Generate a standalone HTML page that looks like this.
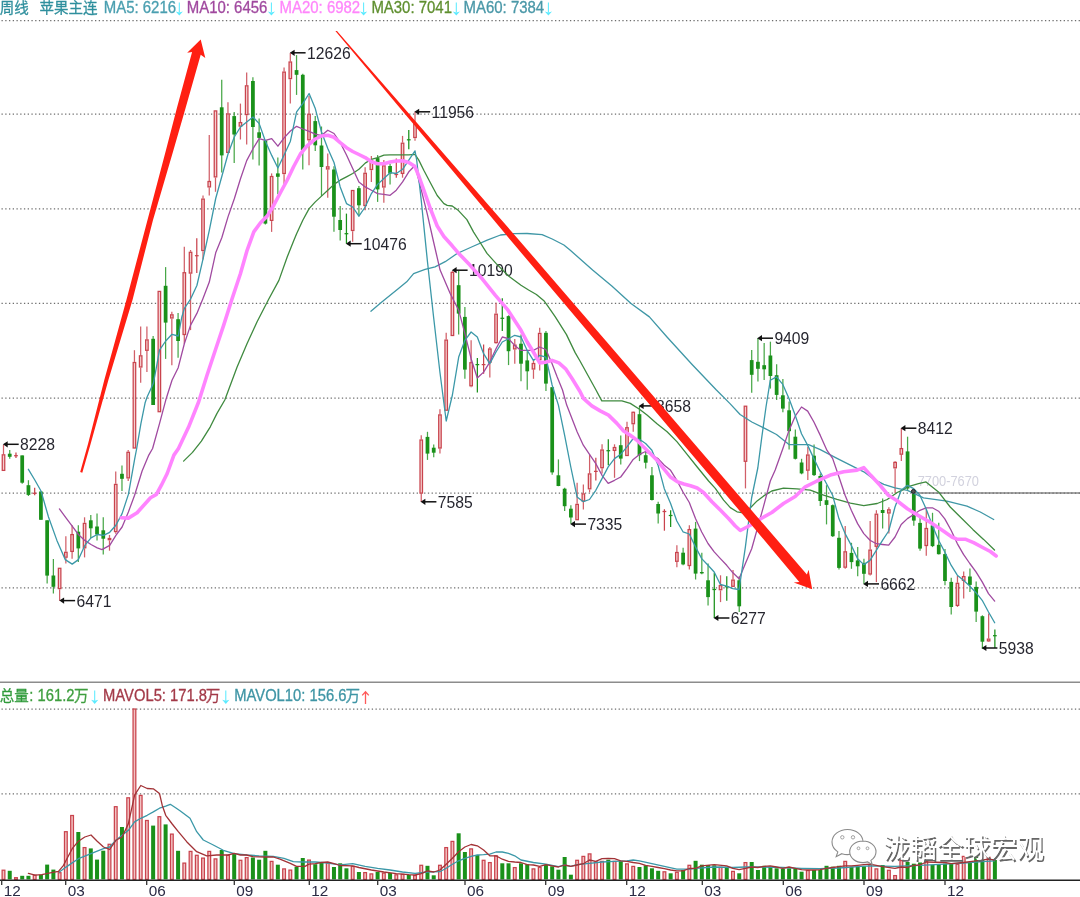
<!DOCTYPE html>
<html><head><meta charset="utf-8"><title>chart</title>
<style>
html,body{margin:0;padding:0;background:#fff;}
body{width:1080px;height:897px;overflow:hidden;position:relative;font-family:"Liberation Sans","Noto Sans CJK SC",sans-serif;}
svg{position:absolute;left:0;top:0;display:block;filter:blur(0.45px);}
text{font-family:"Liberation Sans","Noto Sans CJK SC",sans-serif;}
.lb{font-size:15.7px;fill:#26262f;}
.ax{font-size:15.3px;fill:#2a2a44;}
.hd{font-size:15.9px;}
.cj{font-size:15.2px;}
</style></head><body>
<svg width="1080" height="897" viewBox="0 0 1080 897">
<rect x="0" y="0" width="1080" height="897" fill="#fff"/>

<line x1="915" y1="493" x2="1080" y2="493" stroke="#a6a6a6" stroke-width="2.2"/>
<g stroke="#6e6e6e" stroke-width="1.25" stroke-dasharray="1.3 2.44" fill="none">
<line x1="1.5" y1="20.6" x2="1080" y2="20.6"/>
<line x1="1.5" y1="114.0" x2="1080" y2="114.0"/>
<line x1="1.5" y1="208.8" x2="1080" y2="208.8"/>
<line x1="1.5" y1="303.4" x2="1080" y2="303.4"/>
<line x1="1.5" y1="398.2" x2="1080" y2="398.2"/>
<line x1="1.5" y1="493.1" x2="1080" y2="493.1"/>
<line x1="1.5" y1="587.9" x2="1080" y2="587.9"/>
<line x1="1.5" y1="709.1" x2="1080" y2="709.1"/>
<line x1="1.5" y1="793.8" x2="1080" y2="793.8"/>
</g>
<line x1="0" y1="682.3" x2="1080" y2="682.3" stroke="#8c8c8c" stroke-width="1.6"/>
<g id="candles">
<line x1="3.50" y1="444.7" x2="3.50" y2="454.2" stroke="#c9434d" stroke-width="1.25" stroke-opacity="0.85"/>
<rect x="2.25" y="454.8" width="2.5" height="15.6" fill="#f5d0d0" stroke="#c9434d" stroke-width="1.25"/>
<line x1="9.73" y1="450.1" x2="9.73" y2="458.8" stroke="#1a911a" stroke-width="1.25" stroke-opacity="0.8"/>
<rect x="7.86" y="453.7" width="3.75" height="3.1" fill="#1a911a"/>
<line x1="15.97" y1="452.6" x2="15.97" y2="458.1" stroke="#c9434d" stroke-width="1.25"/>
<line x1="14.10" y1="455.7" x2="17.84" y2="455.7" stroke="#c9434d" stroke-width="1.25"/>
<line x1="22.21" y1="455.4" x2="22.21" y2="483.8" stroke="#1a911a" stroke-width="1.25" stroke-opacity="0.8"/>
<rect x="20.33" y="455.4" width="3.75" height="27.3" fill="#1a911a"/>
<line x1="28.44" y1="480.2" x2="28.44" y2="496" stroke="#1a911a" stroke-width="1.25" stroke-opacity="0.8"/>
<rect x="26.57" y="485.2" width="3.75" height="9.7" fill="#1a911a"/>
<line x1="34.67" y1="487.7" x2="34.67" y2="495.2" stroke="#c9434d" stroke-width="1.25"/>
<line x1="32.80" y1="493.3" x2="36.55" y2="493.3" stroke="#c9434d" stroke-width="1.25"/>
<line x1="40.91" y1="491.5" x2="40.91" y2="519.8" stroke="#1a911a" stroke-width="1.25" stroke-opacity="0.8"/>
<rect x="39.04" y="491.5" width="3.75" height="28.3" fill="#1a911a"/>
<line x1="47.15" y1="520.3" x2="47.15" y2="583.5" stroke="#1a911a" stroke-width="1.25" stroke-opacity="0.8"/>
<rect x="45.27" y="520.3" width="3.75" height="55.3" fill="#1a911a"/>
<line x1="53.38" y1="559" x2="53.38" y2="593.5" stroke="#1a911a" stroke-width="1.25" stroke-opacity="0.8"/>
<rect x="51.51" y="575.5" width="3.75" height="11.3" fill="#1a911a"/>
<line x1="59.62" y1="589.3" x2="59.62" y2="600.8" stroke="#c9434d" stroke-width="1.25" stroke-opacity="0.85"/>
<rect x="58.37" y="568.3" width="2.5" height="20.3" fill="#f5d0d0" stroke="#c9434d" stroke-width="1.25"/>
<line x1="65.85" y1="536.2" x2="65.85" y2="551.7" stroke="#c9434d" stroke-width="1.25" stroke-opacity="0.85"/>
<line x1="65.85" y1="557.9" x2="65.85" y2="563.4" stroke="#c9434d" stroke-width="1.25" stroke-opacity="0.85"/>
<rect x="64.60" y="552.3" width="2.5" height="4.9" fill="#f5d0d0" stroke="#c9434d" stroke-width="1.25"/>
<line x1="72.09" y1="525.3" x2="72.09" y2="534" stroke="#c9434d" stroke-width="1.25" stroke-opacity="0.85"/>
<line x1="72.09" y1="552" x2="72.09" y2="558.8" stroke="#c9434d" stroke-width="1.25" stroke-opacity="0.85"/>
<rect x="70.84" y="534.6" width="2.5" height="16.8" fill="#f5d0d0" stroke="#c9434d" stroke-width="1.25"/>
<line x1="78.32" y1="525.3" x2="78.32" y2="562.1" stroke="#1a911a" stroke-width="1.25" stroke-opacity="0.8"/>
<rect x="76.45" y="531.7" width="3.75" height="16.7" fill="#1a911a"/>
<line x1="84.56" y1="517.3" x2="84.56" y2="522.8" stroke="#c9434d" stroke-width="1.25" stroke-opacity="0.85"/>
<line x1="84.56" y1="548.4" x2="84.56" y2="557.4" stroke="#c9434d" stroke-width="1.25" stroke-opacity="0.85"/>
<rect x="83.31" y="523.4" width="2.5" height="24.4" fill="#f5d0d0" stroke="#c9434d" stroke-width="1.25"/>
<line x1="90.79" y1="514.9" x2="90.79" y2="537.9" stroke="#1a911a" stroke-width="1.25" stroke-opacity="0.8"/>
<rect x="88.92" y="520.3" width="3.75" height="8.0" fill="#1a911a"/>
<line x1="97.03" y1="513.6" x2="97.03" y2="540.4" stroke="#1a911a" stroke-width="1.25" stroke-opacity="0.8"/>
<rect x="95.15" y="526.5" width="3.75" height="8.0" fill="#1a911a"/>
<line x1="103.26" y1="517.3" x2="103.26" y2="554.6" stroke="#1a911a" stroke-width="1.25" stroke-opacity="0.8"/>
<rect x="101.39" y="530.3" width="3.75" height="8.4" fill="#1a911a"/>
<line x1="109.50" y1="535" x2="109.50" y2="537.9" stroke="#c9434d" stroke-width="1.25" stroke-opacity="0.85"/>
<line x1="109.50" y1="540.4" x2="109.50" y2="550.7" stroke="#c9434d" stroke-width="1.25" stroke-opacity="0.85"/>
<rect x="108.25" y="538.5" width="2.5" height="1.2" fill="#f5d0d0" stroke="#c9434d" stroke-width="1.25"/>
<line x1="115.73" y1="471.5" x2="115.73" y2="483.8" stroke="#c9434d" stroke-width="1.25" stroke-opacity="0.85"/>
<line x1="115.73" y1="532.3" x2="115.73" y2="533.7" stroke="#c9434d" stroke-width="1.25" stroke-opacity="0.85"/>
<rect x="114.48" y="484.4" width="2.5" height="47.2" fill="#f5d0d0" stroke="#c9434d" stroke-width="1.25"/>
<line x1="121.97" y1="465.5" x2="121.97" y2="491" stroke="#1a911a" stroke-width="1.25" stroke-opacity="0.8"/>
<rect x="120.09" y="473.8" width="3.75" height="5.0" fill="#1a911a"/>
<line x1="128.20" y1="450.1" x2="128.20" y2="451.7" stroke="#c9434d" stroke-width="1.25" stroke-opacity="0.85"/>
<line x1="128.20" y1="478.5" x2="128.20" y2="481" stroke="#c9434d" stroke-width="1.25" stroke-opacity="0.85"/>
<rect x="126.95" y="452.3" width="2.5" height="25.6" fill="#f5d0d0" stroke="#c9434d" stroke-width="1.25"/>
<line x1="134.44" y1="350.2" x2="134.44" y2="361.9" stroke="#c9434d" stroke-width="1.25" stroke-opacity="0.85"/>
<rect x="133.19" y="362.5" width="2.5" height="85.5" fill="#f5d0d0" stroke="#c9434d" stroke-width="1.25"/>
<line x1="140.67" y1="326.4" x2="140.67" y2="355.2" stroke="#c9434d" stroke-width="1.25" stroke-opacity="0.85"/>
<line x1="140.67" y1="367.7" x2="140.67" y2="382.8" stroke="#c9434d" stroke-width="1.25" stroke-opacity="0.85"/>
<rect x="139.42" y="355.8" width="2.5" height="11.2" fill="#f5d0d0" stroke="#c9434d" stroke-width="1.25"/>
<line x1="146.91" y1="326.4" x2="146.91" y2="339.3" stroke="#c9434d" stroke-width="1.25" stroke-opacity="0.85"/>
<line x1="146.91" y1="351" x2="146.91" y2="371.9" stroke="#c9434d" stroke-width="1.25" stroke-opacity="0.85"/>
<rect x="145.66" y="339.9" width="2.5" height="10.4" fill="#f5d0d0" stroke="#c9434d" stroke-width="1.25"/>
<line x1="153.14" y1="336" x2="153.14" y2="405" stroke="#1a911a" stroke-width="1.25" stroke-opacity="0.8"/>
<rect x="151.27" y="338.8" width="3.75" height="66.2" fill="#1a911a"/>
<rect x="158.12" y="291.4" width="2.5" height="120.3" fill="#f5d0d0" stroke="#c9434d" stroke-width="1.25"/>
<line x1="165.61" y1="267.1" x2="165.61" y2="358.9" stroke="#1a911a" stroke-width="1.25" stroke-opacity="0.8"/>
<rect x="163.74" y="285.8" width="3.75" height="36.8" fill="#1a911a"/>
<line x1="171.84" y1="311.7" x2="171.84" y2="314.2" stroke="#c9434d" stroke-width="1.25" stroke-opacity="0.85"/>
<line x1="171.84" y1="318.7" x2="171.84" y2="365.2" stroke="#c9434d" stroke-width="1.25" stroke-opacity="0.85"/>
<rect x="170.59" y="314.8" width="2.5" height="3.2" fill="#f5d0d0" stroke="#c9434d" stroke-width="1.25"/>
<line x1="178.08" y1="313" x2="178.08" y2="357.7" stroke="#1a911a" stroke-width="1.25" stroke-opacity="0.8"/>
<rect x="176.21" y="319.2" width="3.75" height="21.8" fill="#1a911a"/>
<line x1="184.31" y1="246.7" x2="184.31" y2="272.1" stroke="#c9434d" stroke-width="1.25" stroke-opacity="0.85"/>
<line x1="184.31" y1="335.1" x2="184.31" y2="343.8" stroke="#c9434d" stroke-width="1.25" stroke-opacity="0.85"/>
<rect x="183.06" y="272.7" width="2.5" height="61.8" fill="#f5d0d0" stroke="#c9434d" stroke-width="1.25"/>
<line x1="190.55" y1="250" x2="190.55" y2="251.7" stroke="#c9434d" stroke-width="1.25" stroke-opacity="0.85"/>
<line x1="190.55" y1="273.7" x2="190.55" y2="330.1" stroke="#c9434d" stroke-width="1.25" stroke-opacity="0.85"/>
<rect x="189.30" y="252.3" width="2.5" height="20.8" fill="#f5d0d0" stroke="#c9434d" stroke-width="1.25"/>
<line x1="196.78" y1="238.3" x2="196.78" y2="272.9" stroke="#c9434d" stroke-width="1.25"/>
<line x1="194.91" y1="255.7" x2="198.66" y2="255.7" stroke="#c9434d" stroke-width="1.25"/>
<line x1="203.02" y1="195.5" x2="203.02" y2="198.5" stroke="#c9434d" stroke-width="1.25" stroke-opacity="0.85"/>
<line x1="203.02" y1="251.2" x2="203.02" y2="259.5" stroke="#c9434d" stroke-width="1.25" stroke-opacity="0.85"/>
<rect x="201.77" y="199.1" width="2.5" height="51.4" fill="#f5d0d0" stroke="#c9434d" stroke-width="1.25"/>
<line x1="209.26" y1="135" x2="209.26" y2="180.9" stroke="#c9434d" stroke-width="1.25" stroke-opacity="0.85"/>
<line x1="209.26" y1="187.6" x2="209.26" y2="195.5" stroke="#c9434d" stroke-width="1.25" stroke-opacity="0.85"/>
<rect x="208.01" y="181.5" width="2.5" height="5.4" fill="#f5d0d0" stroke="#c9434d" stroke-width="1.25"/>
<line x1="215.49" y1="177.6" x2="215.49" y2="191.8" stroke="#c9434d" stroke-width="1.25" stroke-opacity="0.85"/>
<rect x="214.24" y="110.9" width="2.5" height="66.0" fill="#f5d0d0" stroke="#c9434d" stroke-width="1.25"/>
<line x1="221.73" y1="79.8" x2="221.73" y2="172.6" stroke="#1a911a" stroke-width="1.25" stroke-opacity="0.8"/>
<rect x="219.85" y="107.3" width="3.75" height="48.1" fill="#1a911a"/>
<line x1="227.96" y1="102.2" x2="227.96" y2="113.3" stroke="#c9434d" stroke-width="1.25" stroke-opacity="0.85"/>
<rect x="226.71" y="113.9" width="2.5" height="38.5" fill="#f5d0d0" stroke="#c9434d" stroke-width="1.25"/>
<line x1="234.20" y1="111.9" x2="234.20" y2="162.9" stroke="#1a911a" stroke-width="1.25" stroke-opacity="0.8"/>
<rect x="232.32" y="116.1" width="3.75" height="18.4" fill="#1a911a"/>
<line x1="240.43" y1="103.6" x2="240.43" y2="122" stroke="#c9434d" stroke-width="1.25" stroke-opacity="0.85"/>
<line x1="240.43" y1="126.7" x2="240.43" y2="139.5" stroke="#c9434d" stroke-width="1.25" stroke-opacity="0.85"/>
<rect x="239.18" y="122.6" width="2.5" height="3.5" fill="#f5d0d0" stroke="#c9434d" stroke-width="1.25"/>
<line x1="246.67" y1="72.6" x2="246.67" y2="85.2" stroke="#c9434d" stroke-width="1.25" stroke-opacity="0.85"/>
<line x1="246.67" y1="115.3" x2="246.67" y2="144.5" stroke="#c9434d" stroke-width="1.25" stroke-opacity="0.85"/>
<rect x="245.42" y="85.8" width="2.5" height="28.8" fill="#f5d0d0" stroke="#c9434d" stroke-width="1.25"/>
<line x1="252.90" y1="77.3" x2="252.90" y2="159.6" stroke="#1a911a" stroke-width="1.25" stroke-opacity="0.8"/>
<rect x="251.03" y="81" width="3.75" height="46.0" fill="#1a911a"/>
<line x1="259.13" y1="118.6" x2="259.13" y2="165.5" stroke="#1a911a" stroke-width="1.25" stroke-opacity="0.8"/>
<rect x="257.26" y="132.3" width="3.75" height="5.6" fill="#1a911a"/>
<line x1="265.37" y1="140.4" x2="265.37" y2="224.5" stroke="#1a911a" stroke-width="1.25" stroke-opacity="0.8"/>
<rect x="263.50" y="140.4" width="3.75" height="83.2" fill="#1a911a"/>
<line x1="271.61" y1="173.4" x2="271.61" y2="175.9" stroke="#c9434d" stroke-width="1.25" stroke-opacity="0.85"/>
<line x1="271.61" y1="221.1" x2="271.61" y2="231.9" stroke="#c9434d" stroke-width="1.25" stroke-opacity="0.85"/>
<rect x="270.36" y="176.5" width="2.5" height="43.9" fill="#f5d0d0" stroke="#c9434d" stroke-width="1.25"/>
<line x1="277.84" y1="157.5" x2="277.84" y2="194.3" stroke="#1a911a" stroke-width="1.25" stroke-opacity="0.8"/>
<rect x="275.97" y="173.4" width="3.75" height="3.4" fill="#1a911a"/>
<line x1="284.07" y1="67.6" x2="284.07" y2="71.5" stroke="#c9434d" stroke-width="1.25" stroke-opacity="0.85"/>
<line x1="284.07" y1="174.2" x2="284.07" y2="184.2" stroke="#c9434d" stroke-width="1.25" stroke-opacity="0.85"/>
<rect x="282.82" y="72.1" width="2.5" height="101.4" fill="#f5d0d0" stroke="#c9434d" stroke-width="1.25"/>
<line x1="290.31" y1="53.1" x2="290.31" y2="61.4" stroke="#c9434d" stroke-width="1.25" stroke-opacity="0.85"/>
<line x1="290.31" y1="79.3" x2="290.31" y2="103.6" stroke="#c9434d" stroke-width="1.25" stroke-opacity="0.85"/>
<rect x="289.06" y="62.0" width="2.5" height="16.6" fill="#f5d0d0" stroke="#c9434d" stroke-width="1.25"/>
<line x1="296.55" y1="55.1" x2="296.55" y2="94.9" stroke="#1a911a" stroke-width="1.25" stroke-opacity="0.8"/>
<rect x="294.67" y="70.1" width="3.75" height="4.7" fill="#1a911a"/>
<line x1="302.78" y1="73.8" x2="302.78" y2="169.5" stroke="#1a911a" stroke-width="1.25" stroke-opacity="0.8"/>
<rect x="300.91" y="74.8" width="3.75" height="75.3" fill="#1a911a"/>
<line x1="309.02" y1="96.1" x2="309.02" y2="113.6" stroke="#c9434d" stroke-width="1.25" stroke-opacity="0.85"/>
<line x1="309.02" y1="140.4" x2="309.02" y2="165.3" stroke="#c9434d" stroke-width="1.25" stroke-opacity="0.85"/>
<rect x="307.77" y="114.2" width="2.5" height="25.6" fill="#f5d0d0" stroke="#c9434d" stroke-width="1.25"/>
<line x1="315.25" y1="116.1" x2="315.25" y2="151" stroke="#1a911a" stroke-width="1.25" stroke-opacity="0.8"/>
<rect x="313.38" y="121.1" width="3.75" height="24.2" fill="#1a911a"/>
<line x1="321.49" y1="126.5" x2="321.49" y2="196.1" stroke="#1a911a" stroke-width="1.25" stroke-opacity="0.8"/>
<rect x="319.61" y="145.5" width="3.75" height="21.5" fill="#1a911a"/>
<line x1="327.72" y1="153.5" x2="327.72" y2="166.2" stroke="#c9434d" stroke-width="1.25" stroke-opacity="0.85"/>
<line x1="327.72" y1="169.7" x2="327.72" y2="197.8" stroke="#c9434d" stroke-width="1.25" stroke-opacity="0.85"/>
<rect x="326.47" y="166.8" width="2.5" height="2.2" fill="#f5d0d0" stroke="#c9434d" stroke-width="1.25"/>
<line x1="333.96" y1="166.3" x2="333.96" y2="231.7" stroke="#1a911a" stroke-width="1.25" stroke-opacity="0.8"/>
<rect x="332.08" y="169.5" width="3.75" height="47.2" fill="#1a911a"/>
<line x1="340.19" y1="206.1" x2="340.19" y2="240.4" stroke="#1a911a" stroke-width="1.25" stroke-opacity="0.8"/>
<rect x="338.31" y="220" width="3.75" height="10.0" fill="#1a911a"/>
<line x1="346.43" y1="213.6" x2="346.43" y2="243.7" stroke="#1a911a" stroke-width="1.25"/>
<line x1="344.55" y1="233.7" x2="348.30" y2="233.7" stroke="#1a911a" stroke-width="1.25"/>
<line x1="352.66" y1="231.2" x2="352.66" y2="241.7" stroke="#c9434d" stroke-width="1.25" stroke-opacity="0.85"/>
<rect x="351.41" y="190.5" width="2.5" height="40.0" fill="#f5d0d0" stroke="#c9434d" stroke-width="1.25"/>
<line x1="358.90" y1="186.1" x2="358.90" y2="216.2" stroke="#1a911a" stroke-width="1.25" stroke-opacity="0.8"/>
<rect x="357.02" y="188.2" width="3.75" height="17.1" fill="#1a911a"/>
<line x1="365.13" y1="167.3" x2="365.13" y2="172.7" stroke="#c9434d" stroke-width="1.25" stroke-opacity="0.85"/>
<line x1="365.13" y1="206.1" x2="365.13" y2="210.3" stroke="#c9434d" stroke-width="1.25" stroke-opacity="0.85"/>
<rect x="363.88" y="173.3" width="2.5" height="32.2" fill="#f5d0d0" stroke="#c9434d" stroke-width="1.25"/>
<line x1="371.37" y1="156" x2="371.37" y2="160.1" stroke="#c9434d" stroke-width="1.25" stroke-opacity="0.85"/>
<line x1="371.37" y1="170.2" x2="371.37" y2="181.9" stroke="#c9434d" stroke-width="1.25" stroke-opacity="0.85"/>
<rect x="370.12" y="160.7" width="2.5" height="8.8" fill="#f5d0d0" stroke="#c9434d" stroke-width="1.25"/>
<line x1="377.60" y1="155.1" x2="377.60" y2="201.9" stroke="#1a911a" stroke-width="1.25" stroke-opacity="0.8"/>
<rect x="375.73" y="158.1" width="3.75" height="31.3" fill="#1a911a"/>
<line x1="383.84" y1="160.1" x2="383.84" y2="165.2" stroke="#c9434d" stroke-width="1.25" stroke-opacity="0.85"/>
<line x1="383.84" y1="187.7" x2="383.84" y2="202.8" stroke="#c9434d" stroke-width="1.25" stroke-opacity="0.85"/>
<rect x="382.59" y="165.8" width="2.5" height="21.2" fill="#f5d0d0" stroke="#c9434d" stroke-width="1.25"/>
<line x1="390.07" y1="163.8" x2="390.07" y2="184.4" stroke="#1a911a" stroke-width="1.25" stroke-opacity="0.8"/>
<rect x="388.19" y="166" width="3.75" height="7.5" fill="#1a911a"/>
<line x1="396.31" y1="158.5" x2="396.31" y2="177.7" stroke="#c9434d" stroke-width="1.25"/>
<line x1="394.43" y1="174.5" x2="398.18" y2="174.5" stroke="#c9434d" stroke-width="1.25"/>
<line x1="402.54" y1="135.9" x2="402.54" y2="142.6" stroke="#c9434d" stroke-width="1.25" stroke-opacity="0.85"/>
<line x1="402.54" y1="174" x2="402.54" y2="177.7" stroke="#c9434d" stroke-width="1.25" stroke-opacity="0.85"/>
<rect x="401.29" y="143.2" width="2.5" height="30.2" fill="#f5d0d0" stroke="#c9434d" stroke-width="1.25"/>
<line x1="408.78" y1="129.9" x2="408.78" y2="149.3" stroke="#1a911a" stroke-width="1.25"/>
<line x1="406.90" y1="139.8" x2="410.65" y2="139.8" stroke="#1a911a" stroke-width="1.25"/>
<line x1="415.01" y1="111.7" x2="415.01" y2="123.4" stroke="#c9434d" stroke-width="1.25" stroke-opacity="0.85"/>
<line x1="415.01" y1="138.2" x2="415.01" y2="140.7" stroke="#c9434d" stroke-width="1.25" stroke-opacity="0.85"/>
<rect x="413.76" y="124.0" width="2.5" height="13.5" fill="#f5d0d0" stroke="#c9434d" stroke-width="1.25"/>
<line x1="421.25" y1="435.2" x2="421.25" y2="439.4" stroke="#c9434d" stroke-width="1.25" stroke-opacity="0.85"/>
<line x1="421.25" y1="493.7" x2="421.25" y2="502.1" stroke="#c9434d" stroke-width="1.25" stroke-opacity="0.85"/>
<rect x="420.00" y="440.0" width="2.5" height="53.1" fill="#f5d0d0" stroke="#c9434d" stroke-width="1.25"/>
<line x1="427.48" y1="431.8" x2="427.48" y2="459.9" stroke="#1a911a" stroke-width="1.25" stroke-opacity="0.8"/>
<rect x="425.61" y="436.9" width="3.75" height="16.7" fill="#1a911a"/>
<line x1="433.72" y1="444.4" x2="433.72" y2="457.3" stroke="#1a911a" stroke-width="1.25" stroke-opacity="0.8"/>
<rect x="431.84" y="447.7" width="3.75" height="5.0" fill="#1a911a"/>
<line x1="439.95" y1="409.3" x2="439.95" y2="414.3" stroke="#c9434d" stroke-width="1.25" stroke-opacity="0.85"/>
<line x1="439.95" y1="448.6" x2="439.95" y2="453.6" stroke="#c9434d" stroke-width="1.25" stroke-opacity="0.85"/>
<rect x="438.70" y="414.9" width="2.5" height="33.1" fill="#f5d0d0" stroke="#c9434d" stroke-width="1.25"/>
<line x1="446.19" y1="332.8" x2="446.19" y2="339.5" stroke="#c9434d" stroke-width="1.25" stroke-opacity="0.85"/>
<rect x="444.94" y="340.1" width="2.5" height="70.1" fill="#f5d0d0" stroke="#c9434d" stroke-width="1.25"/>
<line x1="452.42" y1="270.9" x2="452.42" y2="271.8" stroke="#c9434d" stroke-width="1.25" stroke-opacity="0.85"/>
<rect x="451.17" y="272.4" width="2.5" height="63.1" fill="#f5d0d0" stroke="#c9434d" stroke-width="1.25"/>
<line x1="458.66" y1="270.9" x2="458.66" y2="334.5" stroke="#1a911a" stroke-width="1.25" stroke-opacity="0.8"/>
<rect x="456.78" y="285.2" width="3.75" height="28.4" fill="#1a911a"/>
<line x1="464.89" y1="306.9" x2="464.89" y2="378.8" stroke="#1a911a" stroke-width="1.25" stroke-opacity="0.8"/>
<rect x="463.02" y="316.9" width="3.75" height="52.7" fill="#1a911a"/>
<line x1="471.12" y1="340.3" x2="471.12" y2="362.1" stroke="#c9434d" stroke-width="1.25" stroke-opacity="0.85"/>
<line x1="471.12" y1="386.5" x2="471.12" y2="387.2" stroke="#c9434d" stroke-width="1.25" stroke-opacity="0.85"/>
<rect x="469.88" y="362.7" width="2.5" height="23.1" fill="#f5d0d0" stroke="#c9434d" stroke-width="1.25"/>
<line x1="477.36" y1="357.9" x2="477.36" y2="392.5" stroke="#1a911a" stroke-width="1.25"/>
<line x1="475.49" y1="364.6" x2="479.24" y2="364.6" stroke="#1a911a" stroke-width="1.25"/>
<line x1="483.60" y1="344.5" x2="483.60" y2="373.8" stroke="#c9434d" stroke-width="1.25"/>
<line x1="481.72" y1="364.6" x2="485.47" y2="364.6" stroke="#c9434d" stroke-width="1.25"/>
<line x1="489.83" y1="347" x2="489.83" y2="348.4" stroke="#c9434d" stroke-width="1.25" stroke-opacity="0.85"/>
<line x1="489.83" y1="362.9" x2="489.83" y2="377.5" stroke="#c9434d" stroke-width="1.25" stroke-opacity="0.85"/>
<rect x="488.58" y="349.0" width="2.5" height="13.2" fill="#f5d0d0" stroke="#c9434d" stroke-width="1.25"/>
<line x1="496.06" y1="302.7" x2="496.06" y2="313.6" stroke="#c9434d" stroke-width="1.25" stroke-opacity="0.85"/>
<line x1="496.06" y1="343.3" x2="496.06" y2="343.7" stroke="#c9434d" stroke-width="1.25" stroke-opacity="0.85"/>
<rect x="494.81" y="314.2" width="2.5" height="28.4" fill="#f5d0d0" stroke="#c9434d" stroke-width="1.25"/>
<line x1="502.30" y1="298.2" x2="502.30" y2="331.1" stroke="#1a911a" stroke-width="1.25"/>
<line x1="500.43" y1="318.3" x2="504.18" y2="318.3" stroke="#1a911a" stroke-width="1.25"/>
<line x1="508.54" y1="315.3" x2="508.54" y2="365.1" stroke="#1a911a" stroke-width="1.25" stroke-opacity="0.8"/>
<rect x="506.66" y="316.1" width="3.75" height="35.1" fill="#1a911a"/>
<line x1="514.77" y1="339" x2="514.77" y2="344.5" stroke="#c9434d" stroke-width="1.25" stroke-opacity="0.85"/>
<line x1="514.77" y1="349.5" x2="514.77" y2="363.7" stroke="#c9434d" stroke-width="1.25" stroke-opacity="0.85"/>
<rect x="513.52" y="345.1" width="2.5" height="3.8" fill="#f5d0d0" stroke="#c9434d" stroke-width="1.25"/>
<line x1="521.00" y1="334.5" x2="521.00" y2="381.3" stroke="#1a911a" stroke-width="1.25" stroke-opacity="0.8"/>
<rect x="519.13" y="343.7" width="3.75" height="20.0" fill="#1a911a"/>
<line x1="527.24" y1="351.2" x2="527.24" y2="389.7" stroke="#1a911a" stroke-width="1.25" stroke-opacity="0.8"/>
<rect x="525.37" y="360.4" width="3.75" height="10.9" fill="#1a911a"/>
<line x1="533.48" y1="359.6" x2="533.48" y2="362.9" stroke="#c9434d" stroke-width="1.25" stroke-opacity="0.85"/>
<line x1="533.48" y1="369.6" x2="533.48" y2="378.8" stroke="#c9434d" stroke-width="1.25" stroke-opacity="0.85"/>
<rect x="532.23" y="363.5" width="2.5" height="5.5" fill="#f5d0d0" stroke="#c9434d" stroke-width="1.25"/>
<line x1="539.71" y1="327.8" x2="539.71" y2="332.8" stroke="#c9434d" stroke-width="1.25" stroke-opacity="0.85"/>
<line x1="539.71" y1="360.4" x2="539.71" y2="370.4" stroke="#c9434d" stroke-width="1.25" stroke-opacity="0.85"/>
<rect x="538.46" y="333.4" width="2.5" height="26.3" fill="#f5d0d0" stroke="#c9434d" stroke-width="1.25"/>
<line x1="545.95" y1="331.1" x2="545.95" y2="390.9" stroke="#1a911a" stroke-width="1.25" stroke-opacity="0.8"/>
<rect x="544.07" y="332.8" width="3.75" height="50.8" fill="#1a911a"/>
<line x1="552.18" y1="387.2" x2="552.18" y2="474.7" stroke="#1a911a" stroke-width="1.25" stroke-opacity="0.8"/>
<rect x="550.31" y="387.2" width="3.75" height="85.2" fill="#1a911a"/>
<line x1="558.42" y1="459.4" x2="558.42" y2="486.2" stroke="#1a911a" stroke-width="1.25" stroke-opacity="0.8"/>
<rect x="556.54" y="475.3" width="3.75" height="10.7" fill="#1a911a"/>
<line x1="564.65" y1="487.7" x2="564.65" y2="511" stroke="#1a911a" stroke-width="1.25" stroke-opacity="0.8"/>
<rect x="562.77" y="488.7" width="3.75" height="17.5" fill="#1a911a"/>
<line x1="570.88" y1="505.2" x2="570.88" y2="523.8" stroke="#1a911a" stroke-width="1.25" stroke-opacity="0.8"/>
<rect x="569.01" y="508.7" width="3.75" height="8.8" fill="#1a911a"/>
<line x1="577.12" y1="482.8" x2="577.12" y2="503.8" stroke="#c9434d" stroke-width="1.25" stroke-opacity="0.85"/>
<rect x="575.87" y="504.4" width="2.5" height="15.3" fill="#f5d0d0" stroke="#c9434d" stroke-width="1.25"/>
<line x1="583.36" y1="484.5" x2="583.36" y2="493.3" stroke="#c9434d" stroke-width="1.25" stroke-opacity="0.85"/>
<line x1="583.36" y1="501.7" x2="583.36" y2="509.6" stroke="#c9434d" stroke-width="1.25" stroke-opacity="0.85"/>
<rect x="582.11" y="493.9" width="2.5" height="7.1" fill="#f5d0d0" stroke="#c9434d" stroke-width="1.25"/>
<line x1="589.59" y1="454.4" x2="589.59" y2="473.3" stroke="#c9434d" stroke-width="1.25" stroke-opacity="0.85"/>
<line x1="589.59" y1="489.5" x2="589.59" y2="492.3" stroke="#c9434d" stroke-width="1.25" stroke-opacity="0.85"/>
<rect x="588.34" y="473.9" width="2.5" height="14.9" fill="#f5d0d0" stroke="#c9434d" stroke-width="1.25"/>
<line x1="595.83" y1="457.7" x2="595.83" y2="480.6" stroke="#c9434d" stroke-width="1.25"/>
<line x1="593.95" y1="471.4" x2="597.70" y2="471.4" stroke="#c9434d" stroke-width="1.25"/>
<line x1="602.06" y1="444.3" x2="602.06" y2="449.4" stroke="#c9434d" stroke-width="1.25" stroke-opacity="0.85"/>
<line x1="602.06" y1="468.3" x2="602.06" y2="473.6" stroke="#c9434d" stroke-width="1.25" stroke-opacity="0.85"/>
<rect x="600.81" y="450.0" width="2.5" height="17.7" fill="#f5d0d0" stroke="#c9434d" stroke-width="1.25"/>
<line x1="608.30" y1="439.3" x2="608.30" y2="465.3" stroke="#1a911a" stroke-width="1.25"/>
<line x1="606.42" y1="450.7" x2="610.17" y2="450.7" stroke="#1a911a" stroke-width="1.25"/>
<line x1="614.53" y1="444.3" x2="614.53" y2="446.9" stroke="#c9434d" stroke-width="1.25" stroke-opacity="0.85"/>
<line x1="614.53" y1="451" x2="614.53" y2="477.8" stroke="#c9434d" stroke-width="1.25" stroke-opacity="0.85"/>
<rect x="613.28" y="447.5" width="2.5" height="2.9" fill="#f5d0d0" stroke="#c9434d" stroke-width="1.25"/>
<line x1="620.76" y1="435.5" x2="620.76" y2="464.4" stroke="#1a911a" stroke-width="1.25" stroke-opacity="0.8"/>
<rect x="618.89" y="445.2" width="3.75" height="13.4" fill="#1a911a"/>
<line x1="627.00" y1="421.8" x2="627.00" y2="427.1" stroke="#c9434d" stroke-width="1.25" stroke-opacity="0.85"/>
<rect x="625.75" y="427.7" width="2.5" height="27.8" fill="#f5d0d0" stroke="#c9434d" stroke-width="1.25"/>
<line x1="633.24" y1="411.4" x2="633.24" y2="411.7" stroke="#c9434d" stroke-width="1.25" stroke-opacity="0.85"/>
<line x1="633.24" y1="424.3" x2="633.24" y2="431.8" stroke="#c9434d" stroke-width="1.25" stroke-opacity="0.85"/>
<rect x="631.99" y="412.3" width="2.5" height="11.4" fill="#f5d0d0" stroke="#c9434d" stroke-width="1.25"/>
<line x1="639.47" y1="405.9" x2="639.47" y2="461.1" stroke="#1a911a" stroke-width="1.25" stroke-opacity="0.8"/>
<rect x="637.60" y="414.2" width="3.75" height="41.0" fill="#1a911a"/>
<line x1="645.71" y1="451" x2="645.71" y2="468.6" stroke="#1a911a" stroke-width="1.25" stroke-opacity="0.8"/>
<rect x="643.83" y="455.2" width="3.75" height="7.5" fill="#1a911a"/>
<line x1="651.94" y1="466.9" x2="651.94" y2="500.4" stroke="#1a911a" stroke-width="1.25" stroke-opacity="0.8"/>
<rect x="650.07" y="475.3" width="3.75" height="24.7" fill="#1a911a"/>
<line x1="658.18" y1="501.7" x2="658.18" y2="523.6" stroke="#1a911a" stroke-width="1.25" stroke-opacity="0.8"/>
<rect x="656.30" y="504" width="3.75" height="9.5" fill="#1a911a"/>
<line x1="664.41" y1="509.2" x2="664.41" y2="530.7" stroke="#c9434d" stroke-width="1.25"/>
<line x1="662.54" y1="511.5" x2="666.29" y2="511.5" stroke="#c9434d" stroke-width="1.25"/>
<line x1="670.64" y1="510.2" x2="670.64" y2="527" stroke="#1a911a" stroke-width="1.25"/>
<line x1="668.77" y1="515.5" x2="672.52" y2="515.5" stroke="#1a911a" stroke-width="1.25"/>
<line x1="676.88" y1="545.2" x2="676.88" y2="551.9" stroke="#c9434d" stroke-width="1.25" stroke-opacity="0.85"/>
<line x1="676.88" y1="561.9" x2="676.88" y2="567.3" stroke="#c9434d" stroke-width="1.25" stroke-opacity="0.85"/>
<rect x="675.63" y="552.5" width="2.5" height="8.8" fill="#f5d0d0" stroke="#c9434d" stroke-width="1.25"/>
<line x1="683.12" y1="547.7" x2="683.12" y2="565.3" stroke="#1a911a" stroke-width="1.25" stroke-opacity="0.8"/>
<rect x="681.24" y="552.7" width="3.75" height="11.7" fill="#1a911a"/>
<line x1="689.35" y1="525.2" x2="689.35" y2="529" stroke="#c9434d" stroke-width="1.25" stroke-opacity="0.85"/>
<line x1="689.35" y1="566.1" x2="689.35" y2="569.5" stroke="#c9434d" stroke-width="1.25" stroke-opacity="0.85"/>
<rect x="688.10" y="529.6" width="2.5" height="35.9" fill="#f5d0d0" stroke="#c9434d" stroke-width="1.25"/>
<line x1="695.59" y1="521.9" x2="695.59" y2="579.5" stroke="#1a911a" stroke-width="1.25" stroke-opacity="0.8"/>
<rect x="693.71" y="528.6" width="3.75" height="45.0" fill="#1a911a"/>
<line x1="701.82" y1="552.7" x2="701.82" y2="574.2" stroke="#1a911a" stroke-width="1.25" stroke-opacity="0.8"/>
<rect x="699.95" y="572" width="3.75" height="1.4" fill="#1a911a"/>
<line x1="708.06" y1="563.6" x2="708.06" y2="605.4" stroke="#1a911a" stroke-width="1.25" stroke-opacity="0.8"/>
<rect x="706.18" y="580.3" width="3.75" height="16.8" fill="#1a911a"/>
<line x1="714.29" y1="572.8" x2="714.29" y2="618" stroke="#1a911a" stroke-width="1.25"/>
<line x1="712.42" y1="589.5" x2="716.17" y2="589.5" stroke="#1a911a" stroke-width="1.25"/>
<line x1="720.53" y1="575.3" x2="720.53" y2="585" stroke="#c9434d" stroke-width="1.25" stroke-opacity="0.85"/>
<line x1="720.53" y1="590.4" x2="720.53" y2="602.1" stroke="#c9434d" stroke-width="1.25" stroke-opacity="0.85"/>
<rect x="719.28" y="585.6" width="2.5" height="4.1" fill="#f5d0d0" stroke="#c9434d" stroke-width="1.25"/>
<line x1="726.76" y1="576.2" x2="726.76" y2="600.7" stroke="#1a911a" stroke-width="1.25"/>
<line x1="724.88" y1="586.7" x2="728.63" y2="586.7" stroke="#1a911a" stroke-width="1.25"/>
<line x1="733.00" y1="570" x2="733.00" y2="579.5" stroke="#c9434d" stroke-width="1.25" stroke-opacity="0.85"/>
<rect x="731.75" y="580.1" width="2.5" height="6.2" fill="#f5d0d0" stroke="#c9434d" stroke-width="1.25"/>
<line x1="739.23" y1="576.2" x2="739.23" y2="612.1" stroke="#1a911a" stroke-width="1.25" stroke-opacity="0.8"/>
<rect x="737.36" y="580.3" width="3.75" height="26.0" fill="#1a911a"/>
<line x1="745.47" y1="462" x2="745.47" y2="488.4" stroke="#c9434d" stroke-width="1.25" stroke-opacity="0.85"/>
<rect x="744.22" y="406.2" width="2.5" height="55.1" fill="#f5d0d0" stroke="#c9434d" stroke-width="1.25"/>
<line x1="751.70" y1="350.1" x2="751.70" y2="392.7" stroke="#1a911a" stroke-width="1.25" stroke-opacity="0.8"/>
<rect x="749.83" y="360.1" width="3.75" height="14.7" fill="#1a911a"/>
<line x1="757.94" y1="338.1" x2="757.94" y2="381.5" stroke="#1a911a" stroke-width="1.25" stroke-opacity="0.8"/>
<rect x="756.06" y="361.8" width="3.75" height="7.0" fill="#1a911a"/>
<line x1="764.17" y1="343.1" x2="764.17" y2="379.9" stroke="#1a911a" stroke-width="1.25" stroke-opacity="0.8"/>
<rect x="762.30" y="365.2" width="3.75" height="4.1" fill="#1a911a"/>
<line x1="770.41" y1="341.7" x2="770.41" y2="388.6" stroke="#1a911a" stroke-width="1.25" stroke-opacity="0.8"/>
<rect x="768.53" y="355.5" width="3.75" height="20.5" fill="#1a911a"/>
<line x1="776.64" y1="364.3" x2="776.64" y2="399.9" stroke="#1a911a" stroke-width="1.25" stroke-opacity="0.8"/>
<rect x="774.76" y="375.2" width="3.75" height="19.7" fill="#1a911a"/>
<line x1="782.88" y1="378.9" x2="782.88" y2="412.3" stroke="#1a911a" stroke-width="1.25" stroke-opacity="0.8"/>
<rect x="781.00" y="395.3" width="3.75" height="13.3" fill="#1a911a"/>
<line x1="789.11" y1="401.6" x2="789.11" y2="449.4" stroke="#1a911a" stroke-width="1.25" stroke-opacity="0.8"/>
<rect x="787.24" y="410.3" width="3.75" height="20.9" fill="#1a911a"/>
<line x1="795.35" y1="429.5" x2="795.35" y2="459.6" stroke="#1a911a" stroke-width="1.25" stroke-opacity="0.8"/>
<rect x="793.47" y="436.7" width="3.75" height="22.1" fill="#1a911a"/>
<line x1="801.58" y1="458.8" x2="801.58" y2="474.3" stroke="#1a911a" stroke-width="1.25" stroke-opacity="0.8"/>
<rect x="799.71" y="462.5" width="3.75" height="10.9" fill="#1a911a"/>
<line x1="807.82" y1="446.9" x2="807.82" y2="454.4" stroke="#c9434d" stroke-width="1.25" stroke-opacity="0.85"/>
<line x1="807.82" y1="470.9" x2="807.82" y2="480.1" stroke="#c9434d" stroke-width="1.25" stroke-opacity="0.85"/>
<rect x="806.57" y="455.0" width="2.5" height="15.2" fill="#f5d0d0" stroke="#c9434d" stroke-width="1.25"/>
<line x1="814.05" y1="444.6" x2="814.05" y2="476" stroke="#1a911a" stroke-width="1.25" stroke-opacity="0.8"/>
<rect x="812.18" y="455.7" width="3.75" height="19.4" fill="#1a911a"/>
<line x1="820.29" y1="473.4" x2="820.29" y2="506.1" stroke="#1a911a" stroke-width="1.25" stroke-opacity="0.8"/>
<rect x="818.41" y="476" width="3.75" height="25.0" fill="#1a911a"/>
<line x1="826.52" y1="485.2" x2="826.52" y2="524.4" stroke="#1a911a" stroke-width="1.25" stroke-opacity="0.8"/>
<rect x="824.65" y="500.2" width="3.75" height="4.7" fill="#1a911a"/>
<line x1="832.75" y1="504.4" x2="832.75" y2="537" stroke="#1a911a" stroke-width="1.25" stroke-opacity="0.8"/>
<rect x="830.88" y="505.2" width="3.75" height="31.0" fill="#1a911a"/>
<line x1="838.99" y1="531.1" x2="838.99" y2="569.6" stroke="#1a911a" stroke-width="1.25" stroke-opacity="0.8"/>
<rect x="837.12" y="537.8" width="3.75" height="30.1" fill="#1a911a"/>
<line x1="845.23" y1="526.1" x2="845.23" y2="551.2" stroke="#c9434d" stroke-width="1.25" stroke-opacity="0.85"/>
<line x1="845.23" y1="567.9" x2="845.23" y2="568.8" stroke="#c9434d" stroke-width="1.25" stroke-opacity="0.85"/>
<rect x="843.98" y="551.8" width="2.5" height="15.4" fill="#f5d0d0" stroke="#c9434d" stroke-width="1.25"/>
<line x1="851.46" y1="542.8" x2="851.46" y2="568.8" stroke="#1a911a" stroke-width="1.25" stroke-opacity="0.8"/>
<rect x="849.59" y="552.9" width="3.75" height="9.2" fill="#1a911a"/>
<line x1="857.70" y1="547" x2="857.70" y2="576.3" stroke="#1a911a" stroke-width="1.25" stroke-opacity="0.8"/>
<rect x="855.82" y="560.4" width="3.75" height="5.9" fill="#1a911a"/>
<line x1="863.93" y1="558.7" x2="863.93" y2="583.8" stroke="#1a911a" stroke-width="1.25" stroke-opacity="0.8"/>
<rect x="862.06" y="562.9" width="3.75" height="10.9" fill="#1a911a"/>
<line x1="870.17" y1="521.1" x2="870.17" y2="549.5" stroke="#c9434d" stroke-width="1.25" stroke-opacity="0.85"/>
<line x1="870.17" y1="574.6" x2="870.17" y2="575.5" stroke="#c9434d" stroke-width="1.25" stroke-opacity="0.85"/>
<rect x="868.92" y="550.1" width="2.5" height="23.9" fill="#f5d0d0" stroke="#c9434d" stroke-width="1.25"/>
<line x1="876.40" y1="510.2" x2="876.40" y2="513.6" stroke="#c9434d" stroke-width="1.25" stroke-opacity="0.85"/>
<line x1="876.40" y1="547" x2="876.40" y2="582.1" stroke="#c9434d" stroke-width="1.25" stroke-opacity="0.85"/>
<rect x="875.15" y="514.2" width="2.5" height="32.1" fill="#f5d0d0" stroke="#c9434d" stroke-width="1.25"/>
<line x1="882.63" y1="498.5" x2="882.63" y2="528.6" stroke="#1a911a" stroke-width="1.25" stroke-opacity="0.8"/>
<rect x="880.76" y="510" width="3.75" height="3.0" fill="#1a911a"/>
<line x1="888.87" y1="507.3" x2="888.87" y2="509.2" stroke="#c9434d" stroke-width="1.25" stroke-opacity="0.85"/>
<line x1="888.87" y1="513.6" x2="888.87" y2="533.6" stroke="#c9434d" stroke-width="1.25" stroke-opacity="0.85"/>
<rect x="887.62" y="509.8" width="2.5" height="3.2" fill="#f5d0d0" stroke="#c9434d" stroke-width="1.25"/>
<line x1="895.11" y1="461" x2="895.11" y2="461.8" stroke="#c9434d" stroke-width="1.25" stroke-opacity="0.85"/>
<line x1="895.11" y1="468.5" x2="895.11" y2="493" stroke="#c9434d" stroke-width="1.25" stroke-opacity="0.85"/>
<rect x="893.86" y="462.4" width="2.5" height="5.4" fill="#f5d0d0" stroke="#c9434d" stroke-width="1.25"/>
<line x1="901.34" y1="428.5" x2="901.34" y2="448" stroke="#c9434d" stroke-width="1.25" stroke-opacity="0.85"/>
<line x1="901.34" y1="454.8" x2="901.34" y2="461" stroke="#c9434d" stroke-width="1.25" stroke-opacity="0.85"/>
<rect x="900.09" y="448.6" width="2.5" height="5.6" fill="#f5d0d0" stroke="#c9434d" stroke-width="1.25"/>
<line x1="907.58" y1="436.7" x2="907.58" y2="490.2" stroke="#1a911a" stroke-width="1.25" stroke-opacity="0.8"/>
<rect x="905.70" y="451.4" width="3.75" height="37.1" fill="#1a911a"/>
<line x1="913.81" y1="489.5" x2="913.81" y2="525.7" stroke="#1a911a" stroke-width="1.25" stroke-opacity="0.8"/>
<rect x="911.94" y="493.7" width="3.75" height="26.9" fill="#1a911a"/>
<line x1="920.05" y1="517" x2="920.05" y2="550.7" stroke="#1a911a" stroke-width="1.25" stroke-opacity="0.8"/>
<rect x="918.17" y="522.9" width="3.75" height="25.7" fill="#1a911a"/>
<line x1="926.28" y1="508.7" x2="926.28" y2="527.9" stroke="#c9434d" stroke-width="1.25" stroke-opacity="0.85"/>
<line x1="926.28" y1="546.1" x2="926.28" y2="555.8" stroke="#c9434d" stroke-width="1.25" stroke-opacity="0.85"/>
<rect x="925.03" y="528.5" width="2.5" height="17.0" fill="#f5d0d0" stroke="#c9434d" stroke-width="1.25"/>
<line x1="932.52" y1="512.8" x2="932.52" y2="547.1" stroke="#1a911a" stroke-width="1.25" stroke-opacity="0.8"/>
<rect x="930.64" y="525.4" width="3.75" height="20.7" fill="#1a911a"/>
<line x1="938.75" y1="522.7" x2="938.75" y2="554.6" stroke="#1a911a" stroke-width="1.25" stroke-opacity="0.8"/>
<rect x="936.88" y="544.8" width="3.75" height="9.4" fill="#1a911a"/>
<line x1="944.99" y1="549" x2="944.99" y2="585.2" stroke="#1a911a" stroke-width="1.25" stroke-opacity="0.8"/>
<rect x="943.11" y="554.1" width="3.75" height="26.9" fill="#1a911a"/>
<line x1="951.22" y1="577.7" x2="951.22" y2="614.5" stroke="#1a911a" stroke-width="1.25" stroke-opacity="0.8"/>
<rect x="949.35" y="581.9" width="3.75" height="25.1" fill="#1a911a"/>
<line x1="957.46" y1="576" x2="957.46" y2="582.7" stroke="#c9434d" stroke-width="1.25" stroke-opacity="0.85"/>
<line x1="957.46" y1="606.1" x2="957.46" y2="607" stroke="#c9434d" stroke-width="1.25" stroke-opacity="0.85"/>
<rect x="956.21" y="583.3" width="2.5" height="22.1" fill="#f5d0d0" stroke="#c9434d" stroke-width="1.25"/>
<line x1="963.69" y1="571.5" x2="963.69" y2="576" stroke="#c9434d" stroke-width="1.25" stroke-opacity="0.85"/>
<line x1="963.69" y1="581" x2="963.69" y2="598.6" stroke="#c9434d" stroke-width="1.25" stroke-opacity="0.85"/>
<rect x="962.44" y="576.6" width="2.5" height="3.8" fill="#f5d0d0" stroke="#c9434d" stroke-width="1.25"/>
<line x1="969.93" y1="568.5" x2="969.93" y2="591.9" stroke="#1a911a" stroke-width="1.25" stroke-opacity="0.8"/>
<rect x="968.05" y="576.5" width="3.75" height="8.4" fill="#1a911a"/>
<line x1="976.16" y1="581.5" x2="976.16" y2="622" stroke="#1a911a" stroke-width="1.25" stroke-opacity="0.8"/>
<rect x="974.29" y="586.9" width="3.75" height="24.7" fill="#1a911a"/>
<line x1="982.40" y1="615.3" x2="982.40" y2="648.8" stroke="#1a911a" stroke-width="1.25" stroke-opacity="0.8"/>
<rect x="980.52" y="616.2" width="3.75" height="25.5" fill="#1a911a"/>
<line x1="988.63" y1="613.6" x2="988.63" y2="638.5" stroke="#c9434d" stroke-width="1.25" stroke-opacity="0.85"/>
<line x1="988.63" y1="641.5" x2="988.63" y2="642.1" stroke="#c9434d" stroke-width="1.25" stroke-opacity="0.85"/>
<rect x="987.38" y="639.1" width="2.5" height="1.8" fill="#f5d0d0" stroke="#c9434d" stroke-width="1.25"/>
<line x1="994.87" y1="629.5" x2="994.87" y2="647.9" stroke="#1a911a" stroke-width="1.25"/>
<line x1="992.99" y1="635.7" x2="996.74" y2="635.7" stroke="#1a911a" stroke-width="1.25"/>
</g>
<g id="labels">
<path d="M2.9 444.3 l4.8 -3.1 v6.2 z" fill="#111"/>
<line x1="5.9" y1="444.3" x2="18.7" y2="444.3" stroke="#111" stroke-width="1.5"/>
<text x="20.1" y="450.4" class="lb">8228</text>
<path d="M59.3 600.6 l4.8 -3.1 v6.2 z" fill="#111"/>
<line x1="62.3" y1="600.6" x2="75.1" y2="600.6" stroke="#111" stroke-width="1.5"/>
<text x="76.5" y="606.7" class="lb">6471</text>
<path d="M289.8 52.8 l4.8 -3.1 v6.2 z" fill="#111"/>
<line x1="292.8" y1="52.8" x2="305.6" y2="52.8" stroke="#111" stroke-width="1.5"/>
<text x="307.0" y="58.9" class="lb">12626</text>
<path d="M345.9 243.7 l4.8 -3.1 v6.2 z" fill="#111"/>
<line x1="348.9" y1="243.7" x2="361.7" y2="243.7" stroke="#111" stroke-width="1.5"/>
<text x="363.1" y="249.8" class="lb">10476</text>
<path d="M414.4 111.8 l4.8 -3.1 v6.2 z" fill="#111"/>
<line x1="417.4" y1="111.8" x2="430.2" y2="111.8" stroke="#111" stroke-width="1.5"/>
<text x="431.6" y="117.9" class="lb">11956</text>
<path d="M451.8 270.2 l4.8 -3.1 v6.2 z" fill="#111"/>
<line x1="454.8" y1="270.2" x2="467.6" y2="270.2" stroke="#111" stroke-width="1.5"/>
<text x="469.0" y="276.3" class="lb">10190</text>
<path d="M420.6 501.8 l4.8 -3.1 v6.2 z" fill="#111"/>
<line x1="423.6" y1="501.8" x2="436.4" y2="501.8" stroke="#111" stroke-width="1.5"/>
<text x="437.8" y="507.9" class="lb">7585</text>
<path d="M570.2 524.1 l4.8 -3.1 v6.2 z" fill="#111"/>
<line x1="573.2" y1="524.1" x2="586.0" y2="524.1" stroke="#111" stroke-width="1.5"/>
<text x="587.4" y="530.2" class="lb">7335</text>
<path d="M638.8 405.9 l4.8 -3.1 v6.2 z" fill="#111"/>
<line x1="641.8" y1="405.9" x2="654.6" y2="405.9" stroke="#111" stroke-width="1.5"/>
<text x="656.0" y="412.0" class="lb">8658</text>
<path d="M713.6 618.0 l4.8 -3.1 v6.2 z" fill="#111"/>
<line x1="716.6" y1="618.0" x2="729.4" y2="618.0" stroke="#111" stroke-width="1.5"/>
<text x="730.8" y="624.1" class="lb">6277</text>
<path d="M757.2 338.2 l4.8 -3.1 v6.2 z" fill="#111"/>
<line x1="760.2" y1="338.2" x2="773.0" y2="338.2" stroke="#111" stroke-width="1.5"/>
<text x="774.4" y="344.3" class="lb">9409</text>
<path d="M900.6 428.2 l4.8 -3.1 v6.2 z" fill="#111"/>
<line x1="903.6" y1="428.2" x2="916.4" y2="428.2" stroke="#111" stroke-width="1.5"/>
<text x="917.8" y="434.3" class="lb">8412</text>
<path d="M863.2 583.9 l4.8 -3.1 v6.2 z" fill="#111"/>
<line x1="866.2" y1="583.9" x2="879.0" y2="583.9" stroke="#111" stroke-width="1.5"/>
<text x="880.4" y="590.0" class="lb">6662</text>
<path d="M981.6 648.0 l4.8 -3.1 v6.2 z" fill="#111"/>
<line x1="984.6" y1="648.0" x2="997.4" y2="648.0" stroke="#111" stroke-width="1.5"/>
<text x="998.8" y="654.1" class="lb">5938</text>
<text x="917.7" y="485.9" textLength="61.3" lengthAdjust="spacingAndGlyphs" style="font-size:15.2px;fill:#d2d2de">7700-7670</text>
</g>
<polyline points="370.9,311.2 381.8,302.0 398.5,288.6 406.7,281.8 413.6,273.6 425.1,269.3 435.1,266.8 445.2,261.7 457.1,253.5 473.8,246.0 487.2,240.1 500.5,235.0 513.9,233.7 527.1,233.5 542.1,234.6 552.2,239.0 563.9,245.0 570.0,250.0 592.6,270.1 611.8,286.0 631.0,303.5 649.4,316.9 667.0,337.0 692.1,364.5 716.4,390.0 730.0,403.6 740.1,414.5 751.8,422.0 765.2,428.7 776.5,434.5 789.0,444.6 808.6,444.6 820.3,449.6 837.0,458.4 850.4,465.1 863.8,471.8 873.8,479.3 883.8,484.3 895.0,487.8 907.4,490.3 923.5,497.8 946.9,501.1 967.0,506.2 980.3,512.0 993.7,519.5" fill="none" stroke="#3f97a6" stroke-width="1.3" stroke-linejoin="round" stroke-linecap="round" />
<polyline points="183.6,461.1 192.5,452.4 201.4,441.2 210.3,426.8 217.0,413.4 224.8,400.0 237.1,366.9 247.1,343.5 257.1,321.7 268.8,299.0 278.9,280.4 287.2,257.0 293.9,240.3 296.6,233.7 302.8,220.3 309.1,208.6 315.3,201.9 321.5,196.1 327.8,190.2 334.0,184.4 340.2,180.2 346.5,176.9 352.7,173.5 358.9,169.3 365.2,163.1 371.4,159.3 377.6,157.6 383.9,155.1 390.1,154.8 396.3,154.8 402.6,154.8 408.8,154.8 415.0,154.3 418.8,160.1 423.8,170.2 430.5,183.0 437.2,195.5 443.9,203.6 447.2,205.3 452.2,206.0 458.5,210.6 466.9,219.6 473.6,232.1 478.6,240.0 487.0,253.4 496.0,263.4 508.5,276.0 521.0,285.2 528.6,290.0 536.4,294.5 544.2,301.1 547.5,305.6 555.3,316.8 566.5,334.6 575.0,352.4 580.0,361.0 596.0,390.0 601.8,400.9 621.9,400.9 630.3,403.4 639.5,409.2 647.0,415.1 657.0,423.8 667.1,431.8 677.1,441.9 687.1,454.3 697.2,467.0 708.6,481.0 715.3,488.4 723.6,500.1 730.3,507.6 737.0,511.8 742.0,512.6 750.4,507.8 757.1,500.9 763.7,495.9 771.8,491.0 783.5,488.2 796.9,488.8 810.3,490.2 823.6,495.2 837.0,499.4 850.4,503.2 863.8,505.6 877.2,503.5 887.2,499.5 897.2,492.5 903.9,489.3 907.4,486.9 918.5,483.6 926.0,481.9 938.5,491.9 950.2,507.0 960.3,517.0 972.8,529.4 983.6,539.4 994.5,550.0" fill="none" stroke="#3f8a3f" stroke-width="1.3" stroke-linejoin="round" stroke-linecap="round" />
<polyline points="59.4,508.9 66.0,517.8 72.2,526.2 78.4,534.5 84.8,540.4 91.0,544.5 97.2,547.9 102.0,549.6 109.7,545.4 115.9,535.4 122.1,527.0 128.4,511.9 134.6,495.2 142.1,471.0 148.8,455.1 152.6,448.5 159.5,423.7 165.7,400.3 172.0,380.3 178.2,367.7 184.4,343.5 190.6,325.1 196.9,313.4 202.8,299.0 209.3,282.1 215.7,252.8 221.8,237.8 228.0,216.9 234.4,198.5 240.4,179.0 246.7,160.6 253.0,148.7 259.2,138.7 265.4,140.4 271.7,138.7 277.9,146.2 284.1,137.9 290.4,131.0 296.6,126.3 302.8,129.0 309.1,131.4 315.3,134.2 321.5,135.6 327.8,130.2 334.0,133.5 340.2,142.5 346.5,155.0 352.7,168.5 358.9,181.9 365.2,186.9 371.4,190.2 377.6,193.6 383.9,194.4 390.1,195.3 396.3,190.2 402.6,181.9 408.8,171.8 415.0,165.5 420.5,186.9 427.2,213.6 433.6,242.0 440.1,270.1 450.2,293.5 458.7,310.2 464.9,333.6 471.1,358.7 477.3,378.0 483.6,372.1 489.8,362.1 496.0,348.7 502.3,337.0 508.5,338.7 514.7,345.4 521.0,350.4 527.2,350.4 533.4,350.4 539.7,347.0 545.9,349.5 552.1,363.7 557.2,377.1 562.5,390.0 566.7,405.1 577.1,431.8 583.3,445.2 589.5,454.4 595.8,463.6 602.0,475.3 608.2,483.3 614.5,480.3 620.7,477.0 626.9,468.6 633.2,459.4 639.4,454.4 645.6,451.5 651.9,455.2 658.1,458.6 664.3,465.3 670.6,470.3 676.8,480.3 683.0,492.0 689.3,502.5 695.5,518.6 701.7,532.0 708.0,543.5 714.2,551.9 720.4,558.6 726.7,565.3 732.9,572.8 739.1,578.7 745.4,563.6 751.7,548.7 757.8,527.0 763.4,506.9 770.3,481.0 775.2,470.0 782.8,448.8 789.0,430.4 795.2,416.2 801.5,407.0 807.7,411.1 813.9,422.0 820.3,435.4 827.0,450.4 832.6,458.4 838.9,476.8 845.1,495.2 851.3,510.2 857.6,523.6 863.8,533.6 870.0,540.3 876.3,543.7 882.5,544.5 888.7,545.2 895.0,537.0 901.2,524.5 907.4,518.6 913.7,514.5 919.9,510.3 926.1,507.8 932.4,507.8 938.6,511.2 944.8,518.9 951.1,530.2 957.3,543.6 963.5,554.4 969.8,563.5 976.0,571.8 982.2,581.9 988.5,593.6 994.7,601.1" fill="none" stroke="#a04aa0" stroke-width="1.3" stroke-linejoin="round" stroke-linecap="round" />
<polyline points="28.4,469.3 34.8,480.0 41.0,491.0 48.5,517.0 56.9,540.4 65.2,559.6 72.2,564.1 78.4,559.6 84.8,545.4 91.0,537.9 97.2,534.5 103.5,535.4 109.7,532.3 115.9,525.3 122.1,513.6 128.4,494.4 134.6,459.3 136.7,448.5 140.9,423.7 145.1,402.8 147.1,397.0 153.3,383.6 156.8,365.2 159.5,350.2 165.7,341.0 172.0,334.3 178.2,336.0 181.9,316.7 184.4,308.4 190.6,299.0 196.9,285.5 203.1,258.7 209.3,230.3 215.7,198.5 221.8,176.5 228.0,154.0 234.3,137.0 240.5,127.0 246.7,122.0 253.0,117.0 259.2,123.6 265.4,141.2 271.7,155.4 277.9,168.0 284.1,155.0 290.4,141.2 296.6,111.9 302.8,103.6 309.1,93.5 315.3,108.6 321.5,132.0 327.8,148.5 334.0,162.5 340.2,186.9 346.5,203.6 352.7,207.0 358.9,216.2 365.2,207.0 371.4,193.6 377.6,184.4 383.9,178.5 390.1,172.7 396.3,173.5 402.6,169.3 408.8,160.1 415.0,150.9 416.7,160.2 421.2,200.0 427.5,262.0 433.7,318.0 439.9,372.0 446.2,421.0 452.4,395.0 458.7,357.1 464.9,340.3 471.1,332.0 477.3,337.0 483.6,353.7 489.8,363.7 496.0,352.0 502.3,342.0 508.5,338.7 514.7,335.3 521.0,337.0 527.2,350.4 533.4,360.4 539.7,355.4 545.9,357.1 552.1,385.0 558.4,405.1 564.6,435.2 570.8,467.0 577.1,497.0 583.3,501.7 589.5,499.5 595.8,490.3 602.0,478.6 608.2,466.9 614.5,458.6 620.7,454.4 626.9,446.9 633.2,438.5 639.4,439.3 645.6,443.5 651.9,450.2 658.1,465.3 664.3,488.7 670.6,503.5 676.8,521.0 683.0,531.8 689.3,534.0 695.5,546.9 701.7,558.6 708.0,565.3 714.2,572.0 720.4,584.5 726.7,586.2 732.9,588.7 739.1,589.5 745.4,546.9 751.6,498.0 757.8,468.0 761.8,437.1 766.0,407.0 770.3,380.2 776.5,376.9 782.8,384.4 789.0,398.6 795.2,415.3 801.5,433.7 807.7,445.4 813.9,458.6 820.2,471.8 826.4,483.5 832.6,495.2 838.9,518.6 845.1,533.6 851.3,545.4 857.6,558.7 863.8,564.6 870.0,560.4 876.3,550.4 882.5,540.3 888.7,531.0 895.0,507.0 901.2,490.3 907.4,485.3 913.7,488.6 919.9,495.3 926.1,508.7 932.4,525.4 938.6,540.3 944.8,552.0 951.1,565.2 957.3,575.2 963.5,580.2 969.8,586.1 976.0,592.7 982.2,600.3 988.5,612.0 994.7,622.8" fill="none" stroke="#3b98a8" stroke-width="1.3" stroke-linejoin="round" stroke-linecap="round" />
<polyline points="121.2,517.8 128.4,518.1 137.1,512.8 150.5,497.7 156.4,494.4 161.4,485.2 167.2,473.5 173.9,455.1 178.5,448.5 188.6,427.1 198.6,402.0 207.0,375.3 215.3,350.2 223.7,325.1 232.0,299.0 240.4,273.7 247.1,250.3 253.8,231.9 260.5,222.7 267.2,216.1 273.8,205.2 280.5,192.5 287.0,180.5 293.7,166.5 300.4,154.0 307.1,145.8 315.3,139.0 321.5,136.0 327.8,135.2 334.0,137.3 340.2,142.6 346.5,147.7 352.7,151.5 358.9,154.5 365.2,157.6 371.4,161.8 377.6,163.8 383.9,163.8 390.1,162.1 396.3,161.0 402.6,160.8 408.8,162.4 415.0,166.6 418.8,176.0 423.8,190.0 430.5,209.0 437.2,226.0 443.9,236.5 452.2,245.8 457.6,252.2 469.9,265.1 482.6,279.3 495.2,295.2 508.0,310.2 521.0,330.3 527.2,342.0 533.4,352.0 539.7,362.9 545.9,362.1 552.1,360.4 558.9,362.9 565.6,368.8 572.2,378.8 580.0,391.5 583.4,398.4 591.8,405.9 600.2,410.9 608.5,415.1 616.9,423.4 623.6,431.0 630.3,435.2 637.0,440.2 643.6,446.9 650.3,453.5 657.0,460.2 663.7,468.6 670.4,477.0 677.1,481.6 683.8,484.0 690.5,485.8 697.2,488.0 703.5,492.5 711.9,501.7 720.3,510.1 728.6,518.5 735.3,526.0 740.3,530.5 747.0,527.0 753.7,523.5 760.3,519.0 771.8,512.5 783.5,503.5 795.2,496.5 805.3,486.8 817.0,481.0 830.3,475.1 843.7,471.8 857.1,470.1 863.8,467.6 870.5,475.1 880.3,485.5 888.4,495.3 896.7,500.5 907.4,508.7 918.5,515.6 930.2,522.2 941.9,530.0 951.9,537.0 956.9,539.2 965.2,539.2 973.6,542.7 983.6,548.0 990.3,551.5 996.2,556.0" fill="none" stroke="#ff84ff" stroke-width="3.6" stroke-linejoin="round" stroke-linecap="round" />
<circle cx="913.4" cy="491.4" r="2" fill="#555" stroke="#222" stroke-width="1"/>
<polygon fill="#ff1f12" points="80.2,472 88,444 104.3,380 126.4,300 147.5,220 166,150 176.9,108 192.1,51.9 187.2,52.8 200.7,39.4 205.3,58 200.7,54.8 185.6,108 173.5,150 153,220 132.5,300 108.4,380 90.6,444 82.3,472.8"/>
<polygon fill="#ff1f12" points="335.4,30.9 393.2,100.0 452.8,171.0 487.9,213.0 510.4,240.0 561.2,300.0 595.8,341.0 631.4,383.0 688.1,450.0 747.4,520.0 799.3,581.9 793.7,582.5 812.2,589.2 808.6,569.8 806.9,574.4 759.9,520.0 699.7,450.0 642.1,383.0 606.0,341.0 570.6,300.0 518.9,240.0 495.4,213.0 458.8,171.0 397.1,100.0 337.0,30.9"/>
<g id="vol">
<rect x="2.12" y="870.2" width="2.75" height="9.2" fill="#f2c2c2" stroke="#c9434d" stroke-width="1.25"/>
<rect x="7.73" y="870.8" width="4.0" height="8.6" fill="#1a911a"/>
<rect x="14.60" y="877.7" width="2.75" height="1.7" fill="#f2c2c2" stroke="#c9434d" stroke-width="1.25"/>
<rect x="20.21" y="875.8" width="4.0" height="3.6" fill="#1a911a"/>
<rect x="26.44" y="875.8" width="4.0" height="3.6" fill="#1a911a"/>
<rect x="33.30" y="875.2" width="2.75" height="4.2" fill="#f2c2c2" stroke="#c9434d" stroke-width="1.25"/>
<rect x="38.91" y="874.6" width="4.0" height="4.8" fill="#1a911a"/>
<rect x="45.15" y="864.6" width="4.0" height="14.8" fill="#1a911a"/>
<rect x="51.38" y="869.6" width="4.0" height="9.8" fill="#1a911a"/>
<rect x="58.24" y="872.7" width="2.75" height="6.7" fill="#f2c2c2" stroke="#c9434d" stroke-width="1.25"/>
<rect x="64.47" y="831.7" width="2.75" height="47.7" fill="#f2c2c2" stroke="#c9434d" stroke-width="1.25"/>
<rect x="70.71" y="815.5" width="2.75" height="63.9" fill="#f2c2c2" stroke="#c9434d" stroke-width="1.25"/>
<rect x="76.32" y="832" width="4.0" height="47.4" fill="#1a911a"/>
<rect x="83.18" y="847.6" width="2.75" height="31.8" fill="#f2c2c2" stroke="#c9434d" stroke-width="1.25"/>
<rect x="88.79" y="848.4" width="4.0" height="31.0" fill="#1a911a"/>
<rect x="95.03" y="859.6" width="4.0" height="19.8" fill="#1a911a"/>
<rect x="101.26" y="850.7" width="4.0" height="28.7" fill="#1a911a"/>
<rect x="108.12" y="844.3" width="2.75" height="35.1" fill="#f2c2c2" stroke="#c9434d" stroke-width="1.25"/>
<rect x="114.36" y="806.7" width="2.75" height="72.7" fill="#f2c2c2" stroke="#c9434d" stroke-width="1.25"/>
<rect x="119.97" y="827" width="4.0" height="52.4" fill="#1a911a"/>
<rect x="126.82" y="797.8" width="2.75" height="81.6" fill="#f2c2c2" stroke="#c9434d" stroke-width="1.25"/>
<rect x="133.06" y="709.0" width="2.75" height="170.4" fill="#f2c2c2" stroke="#c9434d" stroke-width="1.25"/>
<rect x="139.30" y="795.4" width="2.75" height="84.0" fill="#f2c2c2" stroke="#c9434d" stroke-width="1.25"/>
<rect x="145.53" y="820.5" width="2.75" height="58.9" fill="#f2c2c2" stroke="#c9434d" stroke-width="1.25"/>
<rect x="151.14" y="825.6" width="4.0" height="53.8" fill="#1a911a"/>
<rect x="158.00" y="816.7" width="2.75" height="62.7" fill="#f2c2c2" stroke="#c9434d" stroke-width="1.25"/>
<rect x="163.61" y="824.4" width="4.0" height="55.0" fill="#1a911a"/>
<rect x="170.47" y="834.1" width="2.75" height="45.3" fill="#f2c2c2" stroke="#c9434d" stroke-width="1.25"/>
<rect x="176.08" y="850.8" width="4.0" height="28.6" fill="#1a911a"/>
<rect x="182.94" y="863.1" width="2.75" height="16.3" fill="#f2c2c2" stroke="#c9434d" stroke-width="1.25"/>
<rect x="189.18" y="851.4" width="2.75" height="28.0" fill="#f2c2c2" stroke="#c9434d" stroke-width="1.25"/>
<rect x="195.41" y="855.3" width="2.75" height="24.1" fill="#f2c2c2" stroke="#c9434d" stroke-width="1.25"/>
<rect x="201.65" y="858.1" width="2.75" height="21.3" fill="#f2c2c2" stroke="#c9434d" stroke-width="1.25"/>
<rect x="207.88" y="851.4" width="2.75" height="28.0" fill="#f2c2c2" stroke="#c9434d" stroke-width="1.25"/>
<rect x="214.12" y="858.9" width="2.75" height="20.5" fill="#f2c2c2" stroke="#c9434d" stroke-width="1.25"/>
<rect x="219.73" y="850" width="4.0" height="29.4" fill="#1a911a"/>
<rect x="226.59" y="855.3" width="2.75" height="24.1" fill="#f2c2c2" stroke="#c9434d" stroke-width="1.25"/>
<rect x="232.20" y="853.3" width="4.0" height="26.1" fill="#1a911a"/>
<rect x="239.06" y="860.3" width="2.75" height="19.1" fill="#f2c2c2" stroke="#c9434d" stroke-width="1.25"/>
<rect x="245.29" y="857.6" width="2.75" height="21.8" fill="#f2c2c2" stroke="#c9434d" stroke-width="1.25"/>
<rect x="250.90" y="857.5" width="4.0" height="21.9" fill="#1a911a"/>
<rect x="257.13" y="859.7" width="4.0" height="19.7" fill="#1a911a"/>
<rect x="263.37" y="850.8" width="4.0" height="28.6" fill="#1a911a"/>
<rect x="270.23" y="861.4" width="2.75" height="18.0" fill="#f2c2c2" stroke="#c9434d" stroke-width="1.25"/>
<rect x="275.84" y="864.7" width="4.0" height="14.7" fill="#1a911a"/>
<rect x="282.70" y="868.9" width="2.75" height="10.5" fill="#f2c2c2" stroke="#c9434d" stroke-width="1.25"/>
<rect x="288.94" y="870.1" width="2.75" height="9.3" fill="#f2c2c2" stroke="#c9434d" stroke-width="1.25"/>
<rect x="294.55" y="866.7" width="4.0" height="12.7" fill="#1a911a"/>
<rect x="300.78" y="858" width="4.0" height="21.4" fill="#1a911a"/>
<rect x="307.64" y="860.1" width="2.75" height="19.3" fill="#f2c2c2" stroke="#c9434d" stroke-width="1.25"/>
<rect x="313.25" y="864.2" width="4.0" height="15.2" fill="#1a911a"/>
<rect x="319.49" y="862.5" width="4.0" height="16.9" fill="#1a911a"/>
<rect x="326.35" y="863.1" width="2.75" height="16.3" fill="#f2c2c2" stroke="#c9434d" stroke-width="1.25"/>
<rect x="331.96" y="867" width="4.0" height="12.4" fill="#1a911a"/>
<rect x="338.19" y="863.3" width="4.0" height="16.1" fill="#1a911a"/>
<rect x="344.43" y="868.3" width="4.0" height="11.1" fill="#1a911a"/>
<rect x="351.29" y="866.4" width="2.75" height="13.0" fill="#f2c2c2" stroke="#c9434d" stroke-width="1.25"/>
<rect x="356.90" y="872" width="4.0" height="7.4" fill="#1a911a"/>
<rect x="363.75" y="872.6" width="2.75" height="6.8" fill="#f2c2c2" stroke="#c9434d" stroke-width="1.25"/>
<rect x="369.99" y="873.9" width="2.75" height="5.5" fill="#f2c2c2" stroke="#c9434d" stroke-width="1.25"/>
<rect x="375.60" y="872" width="4.0" height="7.4" fill="#1a911a"/>
<rect x="382.46" y="873.1" width="2.75" height="6.3" fill="#f2c2c2" stroke="#c9434d" stroke-width="1.25"/>
<rect x="388.07" y="873" width="4.0" height="6.4" fill="#1a911a"/>
<rect x="394.93" y="874.8" width="2.75" height="4.6" fill="#f2c2c2" stroke="#c9434d" stroke-width="1.25"/>
<rect x="401.17" y="874.3" width="2.75" height="5.1" fill="#f2c2c2" stroke="#c9434d" stroke-width="1.25"/>
<rect x="406.78" y="875" width="4.0" height="4.4" fill="#1a911a"/>
<rect x="413.64" y="875.6" width="2.75" height="3.8" fill="#f2c2c2" stroke="#c9434d" stroke-width="1.25"/>
<rect x="419.87" y="865.3" width="2.75" height="14.1" fill="#f2c2c2" stroke="#c9434d" stroke-width="1.25"/>
<rect x="425.48" y="865.8" width="4.0" height="13.6" fill="#1a911a"/>
<rect x="431.72" y="875.3" width="4.0" height="4.1" fill="#1a911a"/>
<rect x="438.58" y="865.3" width="2.75" height="14.1" fill="#f2c2c2" stroke="#c9434d" stroke-width="1.25"/>
<rect x="444.81" y="847.6" width="2.75" height="31.8" fill="#f2c2c2" stroke="#c9434d" stroke-width="1.25"/>
<rect x="451.05" y="841.4" width="2.75" height="38.0" fill="#f2c2c2" stroke="#c9434d" stroke-width="1.25"/>
<rect x="456.66" y="833.3" width="4.0" height="46.1" fill="#1a911a"/>
<rect x="462.89" y="852" width="4.0" height="27.4" fill="#1a911a"/>
<rect x="469.75" y="848.9" width="2.75" height="30.5" fill="#f2c2c2" stroke="#c9434d" stroke-width="1.25"/>
<rect x="475.36" y="855" width="4.0" height="24.4" fill="#1a911a"/>
<rect x="482.22" y="860.3" width="2.75" height="19.1" fill="#f2c2c2" stroke="#c9434d" stroke-width="1.25"/>
<rect x="488.46" y="862.6" width="2.75" height="16.8" fill="#f2c2c2" stroke="#c9434d" stroke-width="1.25"/>
<rect x="494.69" y="855.9" width="2.75" height="23.5" fill="#f2c2c2" stroke="#c9434d" stroke-width="1.25"/>
<rect x="500.30" y="863.3" width="4.0" height="16.1" fill="#1a911a"/>
<rect x="506.54" y="863.3" width="4.0" height="16.1" fill="#1a911a"/>
<rect x="513.39" y="867.6" width="2.75" height="11.8" fill="#f2c2c2" stroke="#c9434d" stroke-width="1.25"/>
<rect x="519.00" y="863.3" width="4.0" height="16.1" fill="#1a911a"/>
<rect x="525.24" y="864.2" width="4.0" height="15.2" fill="#1a911a"/>
<rect x="532.10" y="868.9" width="2.75" height="10.5" fill="#f2c2c2" stroke="#c9434d" stroke-width="1.25"/>
<rect x="538.34" y="867.3" width="2.75" height="12.1" fill="#f2c2c2" stroke="#c9434d" stroke-width="1.25"/>
<rect x="543.95" y="864.7" width="4.0" height="14.7" fill="#1a911a"/>
<rect x="550.18" y="866.3" width="4.0" height="13.1" fill="#1a911a"/>
<rect x="556.42" y="869.7" width="4.0" height="9.7" fill="#1a911a"/>
<rect x="562.65" y="857" width="4.0" height="22.4" fill="#1a911a"/>
<rect x="568.88" y="874.7" width="4.0" height="4.7" fill="#1a911a"/>
<rect x="575.75" y="860.3" width="2.75" height="19.1" fill="#f2c2c2" stroke="#c9434d" stroke-width="1.25"/>
<rect x="581.98" y="856.4" width="2.75" height="23.0" fill="#f2c2c2" stroke="#c9434d" stroke-width="1.25"/>
<rect x="588.22" y="853.9" width="2.75" height="25.5" fill="#f2c2c2" stroke="#c9434d" stroke-width="1.25"/>
<rect x="594.45" y="861.9" width="2.75" height="17.5" fill="#f2c2c2" stroke="#c9434d" stroke-width="1.25"/>
<rect x="600.69" y="861.4" width="2.75" height="18.0" fill="#f2c2c2" stroke="#c9434d" stroke-width="1.25"/>
<rect x="606.30" y="859.7" width="4.0" height="19.7" fill="#1a911a"/>
<rect x="613.16" y="861.4" width="2.75" height="18.0" fill="#f2c2c2" stroke="#c9434d" stroke-width="1.25"/>
<rect x="618.76" y="860.8" width="4.0" height="18.6" fill="#1a911a"/>
<rect x="625.62" y="863.9" width="2.75" height="15.5" fill="#f2c2c2" stroke="#c9434d" stroke-width="1.25"/>
<rect x="631.86" y="866.4" width="2.75" height="13.0" fill="#f2c2c2" stroke="#c9434d" stroke-width="1.25"/>
<rect x="637.47" y="867" width="4.0" height="12.4" fill="#1a911a"/>
<rect x="643.71" y="865.3" width="4.0" height="14.1" fill="#1a911a"/>
<rect x="649.94" y="868.3" width="4.0" height="11.1" fill="#1a911a"/>
<rect x="656.18" y="870.8" width="4.0" height="8.6" fill="#1a911a"/>
<rect x="663.04" y="871.8" width="2.75" height="7.6" fill="#f2c2c2" stroke="#c9434d" stroke-width="1.25"/>
<rect x="668.64" y="873.3" width="4.0" height="6.1" fill="#1a911a"/>
<rect x="675.50" y="872.3" width="2.75" height="7.1" fill="#f2c2c2" stroke="#c9434d" stroke-width="1.25"/>
<rect x="681.12" y="870" width="4.0" height="9.4" fill="#1a911a"/>
<rect x="687.98" y="865.3" width="2.75" height="14.1" fill="#f2c2c2" stroke="#c9434d" stroke-width="1.25"/>
<rect x="693.59" y="860.8" width="4.0" height="18.6" fill="#1a911a"/>
<rect x="699.82" y="864.7" width="4.0" height="14.7" fill="#1a911a"/>
<rect x="706.06" y="865" width="4.0" height="14.4" fill="#1a911a"/>
<rect x="712.29" y="865.3" width="4.0" height="14.1" fill="#1a911a"/>
<rect x="719.15" y="867.3" width="2.75" height="12.1" fill="#f2c2c2" stroke="#c9434d" stroke-width="1.25"/>
<rect x="724.76" y="866.7" width="4.0" height="12.7" fill="#1a911a"/>
<rect x="731.62" y="871.4" width="2.75" height="8.0" fill="#f2c2c2" stroke="#c9434d" stroke-width="1.25"/>
<rect x="737.23" y="873.3" width="4.0" height="6.1" fill="#1a911a"/>
<rect x="744.09" y="862.6" width="2.75" height="16.8" fill="#f2c2c2" stroke="#c9434d" stroke-width="1.25"/>
<rect x="749.70" y="862" width="4.0" height="17.4" fill="#1a911a"/>
<rect x="755.94" y="870" width="4.0" height="9.4" fill="#1a911a"/>
<rect x="762.17" y="865.8" width="4.0" height="13.6" fill="#1a911a"/>
<rect x="768.41" y="866.7" width="4.0" height="12.7" fill="#1a911a"/>
<rect x="774.64" y="868.3" width="4.0" height="11.1" fill="#1a911a"/>
<rect x="780.88" y="868.7" width="4.0" height="10.7" fill="#1a911a"/>
<rect x="787.11" y="868.3" width="4.0" height="11.1" fill="#1a911a"/>
<rect x="793.35" y="868.3" width="4.0" height="11.1" fill="#1a911a"/>
<rect x="799.58" y="871.7" width="4.0" height="7.7" fill="#1a911a"/>
<rect x="806.44" y="870.6" width="2.75" height="8.8" fill="#f2c2c2" stroke="#c9434d" stroke-width="1.25"/>
<rect x="812.05" y="870" width="4.0" height="9.4" fill="#1a911a"/>
<rect x="818.29" y="870" width="4.0" height="9.4" fill="#1a911a"/>
<rect x="824.52" y="865.8" width="4.0" height="13.6" fill="#1a911a"/>
<rect x="830.75" y="866.7" width="4.0" height="12.7" fill="#1a911a"/>
<rect x="836.99" y="865.8" width="4.0" height="13.6" fill="#1a911a"/>
<rect x="843.85" y="861.4" width="2.75" height="18.0" fill="#f2c2c2" stroke="#c9434d" stroke-width="1.25"/>
<rect x="849.46" y="866.7" width="4.0" height="12.7" fill="#1a911a"/>
<rect x="855.70" y="866.7" width="4.0" height="12.7" fill="#1a911a"/>
<rect x="861.93" y="866.3" width="4.0" height="13.1" fill="#1a911a"/>
<rect x="868.79" y="864.8" width="2.75" height="14.6" fill="#f2c2c2" stroke="#c9434d" stroke-width="1.25"/>
<rect x="875.03" y="868.9" width="2.75" height="10.5" fill="#f2c2c2" stroke="#c9434d" stroke-width="1.25"/>
<rect x="880.63" y="865" width="4.0" height="14.4" fill="#1a911a"/>
<rect x="887.50" y="870.3" width="2.75" height="9.1" fill="#f2c2c2" stroke="#c9434d" stroke-width="1.25"/>
<rect x="893.73" y="875.6" width="2.75" height="3.8" fill="#f2c2c2" stroke="#c9434d" stroke-width="1.25"/>
<rect x="899.97" y="860.6" width="2.75" height="18.8" fill="#f2c2c2" stroke="#c9434d" stroke-width="1.25"/>
<rect x="905.58" y="862" width="4.0" height="17.4" fill="#1a911a"/>
<rect x="911.81" y="863.7" width="4.0" height="15.7" fill="#1a911a"/>
<rect x="918.05" y="862.5" width="4.0" height="16.9" fill="#1a911a"/>
<rect x="924.91" y="861.4" width="2.75" height="18.0" fill="#f2c2c2" stroke="#c9434d" stroke-width="1.25"/>
<rect x="930.52" y="865" width="4.0" height="14.4" fill="#1a911a"/>
<rect x="936.75" y="865" width="4.0" height="14.4" fill="#1a911a"/>
<rect x="942.99" y="863.7" width="4.0" height="15.7" fill="#1a911a"/>
<rect x="949.22" y="863.7" width="4.0" height="15.7" fill="#1a911a"/>
<rect x="956.08" y="864.3" width="2.75" height="15.1" fill="#f2c2c2" stroke="#c9434d" stroke-width="1.25"/>
<rect x="962.32" y="856.4" width="2.75" height="23.0" fill="#f2c2c2" stroke="#c9434d" stroke-width="1.25"/>
<rect x="967.93" y="862.5" width="4.0" height="16.9" fill="#1a911a"/>
<rect x="974.16" y="856.7" width="4.0" height="22.7" fill="#1a911a"/>
<rect x="980.40" y="860" width="4.0" height="19.4" fill="#1a911a"/>
<rect x="987.25" y="857.3" width="2.75" height="22.1" fill="#f2c2c2" stroke="#c9434d" stroke-width="1.25"/>
<rect x="992.87" y="860" width="4.0" height="19.4" fill="#1a911a"/>
</g>
<polyline points="59.4,872.1 66.0,867.1 72.2,862.9 78.4,858.7 84.8,856.2 91.0,853.7 97.2,851.2 103.5,848.7 109.7,847.0 115.9,840.3 122.1,835.3 128.4,830.3 134.6,821.9 140.8,818.3 147.2,815.3 153.3,811.9 159.5,808.2 165.7,806.1 170.3,804.3 175.6,807.7 180.0,810.8 190.0,818.3 196.7,831.7 203.3,840.0 213.3,845.0 223.3,850.3 234.2,853.7 246.7,855.0 259.1,855.8 273.3,856.3 284.0,858.3 293.3,861.7 302.8,862.0 315.3,862.0 327.7,863.0 340.2,864.8 352.7,863.7 365.1,866.3 377.6,868.3 390.1,870.0 402.5,872.0 415.0,873.3 427.5,872.0 439.9,871.7 446.2,868.3 452.4,864.2 458.6,860.8 464.9,858.3 471.1,856.3 477.3,855.0 483.6,854.7 489.8,854.2 496.0,852.0 502.3,852.0 508.5,853.3 514.7,855.8 521.0,860.0 533.4,862.5 545.9,864.2 558.4,866.7 564.6,865.0 570.8,866.3 577.1,864.7 589.5,863.3 602.0,862.0 614.5,861.3 626.9,860.8 633.2,860.0 639.4,860.8 651.9,863.7 664.3,866.3 676.8,869.2 689.3,869.2 695.5,868.3 714.2,867.0 732.9,867.5 745.4,867.0 764.1,867.0 782.8,867.5 801.5,868.3 820.2,868.7 838.9,868.0 857.6,866.7 870.0,865.8 895.0,866.3 919.9,865.3 944.8,864.2 963.5,863.0 982.2,861.7 994.7,860.8" fill="none" stroke="#3b98a8" stroke-width="1.3" stroke-linejoin="round" stroke-linecap="round" />
<polyline points="28.4,873.4 35.1,875.1 41.8,874.6 50.2,872.9 58.5,871.3 63.5,865.4 66.9,858.7 72.2,848.7 78.4,841.2 84.8,837.0 91.0,835.0 97.2,841.2 103.5,847.0 109.7,849.5 115.9,840.3 122.1,837.0 128.4,823.6 134.6,795.2 140.8,785.5 147.2,788.5 153.3,788.8 159.5,793.5 162.2,805.2 165.7,815.3 172.2,824.0 178.3,831.7 186.7,841.7 196.7,851.7 206.7,855.8 216.7,855.0 228.0,855.0 234.2,853.3 240.4,855.0 246.7,855.0 252.9,856.7 265.4,857.0 273.3,857.0 280.0,859.2 290.3,863.3 296.5,866.3 305.0,866.3 309.0,864.2 315.3,863.7 321.5,862.5 327.7,862.0 334.0,863.7 340.2,865.5 352.7,865.8 358.9,867.5 371.4,870.0 383.8,872.0 396.3,873.7 408.8,874.7 415.0,875.0 421.2,873.7 427.5,870.8 433.7,872.0 439.9,870.0 446.2,864.2 452.4,858.3 458.6,851.7 464.9,847.0 471.1,844.5 477.3,845.8 483.6,850.0 489.8,855.8 496.0,855.8 502.3,859.2 508.5,861.3 514.7,862.0 521.0,862.5 527.2,864.7 533.4,865.0 539.7,866.3 545.9,864.7 552.1,865.8 558.4,867.0 564.6,865.0 570.8,866.3 577.1,865.0 583.3,863.7 589.5,860.0 595.8,861.3 602.0,858.7 608.2,858.3 614.5,858.7 620.7,860.8 626.9,861.3 633.2,862.5 639.4,863.3 645.6,865.3 651.9,866.3 658.1,867.5 664.3,868.7 670.6,870.0 676.8,870.8 683.0,870.8 689.3,868.5 695.5,868.3 701.7,865.8 714.2,864.7 726.7,865.8 732.9,868.3 739.1,869.7 745.4,868.3 751.6,867.0 757.8,867.5 764.1,866.3 770.3,865.8 776.5,867.0 782.8,868.3 789.0,867.0 795.2,868.3 801.5,869.7 807.7,870.0 813.9,870.0 820.2,869.7 826.4,868.3 832.6,867.5 838.9,866.7 845.1,865.8 851.3,865.8 857.6,865.3 863.8,864.7 870.0,864.2 882.5,866.7 895.0,868.3 901.2,867.0 907.4,867.5 913.7,865.3 919.9,865.0 926.1,862.0 944.8,862.5 951.1,863.7 963.5,862.5 976.0,860.8 988.5,859.2 994.7,860.0" fill="none" stroke="#a23236" stroke-width="1.3" stroke-linejoin="round" stroke-linecap="round" />
<line x1="0" y1="880.2" x2="1080" y2="880.2" stroke="#222" stroke-width="1.6"/>
<line x1="1.7" y1="880" x2="1.7" y2="885" stroke="#333" stroke-width="1.3"/>
<text x="3.7" y="896.4" class="ax">12</text>
<line x1="65.7" y1="880" x2="65.7" y2="885" stroke="#333" stroke-width="1.3"/>
<text x="67.7" y="896.4" class="ax">03</text>
<line x1="146.7" y1="880" x2="146.7" y2="885" stroke="#333" stroke-width="1.3"/>
<text x="148.7" y="896.4" class="ax">06</text>
<line x1="234.3" y1="880" x2="234.3" y2="885" stroke="#333" stroke-width="1.3"/>
<text x="236.3" y="896.4" class="ax">09</text>
<line x1="309.3" y1="880" x2="309.3" y2="885" stroke="#333" stroke-width="1.3"/>
<text x="311.3" y="896.4" class="ax">12</text>
<line x1="377.7" y1="880" x2="377.7" y2="885" stroke="#333" stroke-width="1.3"/>
<text x="379.7" y="896.4" class="ax">03</text>
<line x1="465" y1="880" x2="465" y2="885" stroke="#333" stroke-width="1.3"/>
<text x="467.0" y="896.4" class="ax">06</text>
<line x1="545.7" y1="880" x2="545.7" y2="885" stroke="#333" stroke-width="1.3"/>
<text x="547.7" y="896.4" class="ax">09</text>
<line x1="626.7" y1="880" x2="626.7" y2="885" stroke="#333" stroke-width="1.3"/>
<text x="628.7" y="896.4" class="ax">12</text>
<line x1="702.3" y1="880" x2="702.3" y2="885" stroke="#333" stroke-width="1.3"/>
<text x="704.3" y="896.4" class="ax">03</text>
<line x1="783.3" y1="880" x2="783.3" y2="885" stroke="#333" stroke-width="1.3"/>
<text x="785.3" y="896.4" class="ax">06</text>
<line x1="864" y1="880" x2="864" y2="885" stroke="#333" stroke-width="1.3"/>
<text x="866.0" y="896.4" class="ax">09</text>
<line x1="945" y1="880" x2="945" y2="885" stroke="#333" stroke-width="1.3"/>
<text x="947.0" y="896.4" class="ax">12</text>
<text transform="translate(-0.3,12.6) scale(0.955,1)" class="cj" fill="#2f8f9d" stroke="#2f8f9d" stroke-width="0.3" >周线</text>
<text transform="translate(39.5,12.6) scale(0.955,1)" class="cj" fill="#2f8f9d" stroke="#2f8f9d" stroke-width="0.3" >苹果主连</text>
<text transform="translate(103.8,12.6) scale(0.94,1)" class="hd" fill="#4a9fb0" stroke="#4a9fb0" stroke-width="0.3" >MA5: 6216</text>
<text transform="translate(186.8,12.6) scale(0.94,1)" class="hd" fill="#a0499f" stroke="#a0499f" stroke-width="0.3" >MA10: 6456</text>
<text transform="translate(279.6,12.6) scale(0.94,1)" class="hd" fill="#ff86fb" stroke="#ff86fb" stroke-width="0.3" >MA20: 6982</text>
<text transform="translate(371.4,12.6) scale(0.94,1)" class="hd" fill="#5f8f2f" stroke="#5f8f2f" stroke-width="0.3" >MA30: 7041</text>
<text transform="translate(463.6,12.6) scale(0.94,1)" class="hd" fill="#4a98a8" stroke="#4a98a8" stroke-width="0.3" >MA60: 7384</text>
<path d="M179.3 2.6 V12.6" fill="none" stroke="#5cebff" stroke-width="1.05"/>
<path d="M175.70000000000002 11.399999999999999 L179.3 15.6 L182.9 11.399999999999999 L179.3 12.399999999999999 Z" fill="#5cebff"/>
<path d="M271.4 2.6 V12.6" fill="none" stroke="#5cebff" stroke-width="1.05"/>
<path d="M267.79999999999995 11.399999999999999 L271.4 15.6 L275.0 11.399999999999999 L271.4 12.399999999999999 Z" fill="#5cebff"/>
<path d="M363.6 2.6 V12.6" fill="none" stroke="#5cebff" stroke-width="1.05"/>
<path d="M360.0 11.399999999999999 L363.6 15.6 L367.20000000000005 11.399999999999999 L363.6 12.399999999999999 Z" fill="#5cebff"/>
<path d="M456.3 2.6 V12.6" fill="none" stroke="#5cebff" stroke-width="1.05"/>
<path d="M452.7 11.399999999999999 L456.3 15.6 L459.90000000000003 11.399999999999999 L456.3 12.399999999999999 Z" fill="#5cebff"/>
<path d="M548.4 2.6 V12.6" fill="none" stroke="#5cebff" stroke-width="1.05"/>
<path d="M544.8 11.399999999999999 L548.4 15.6 L552.0 11.399999999999999 L548.4 12.399999999999999 Z" fill="#5cebff"/>
<text transform="translate(-0.3,701.1) scale(0.955,1)" class="cj" fill="#2f9a3a" stroke="#2f9a3a" stroke-width="0.3" >总量</text>
<text transform="translate(29.3,701.1) scale(0.93,1)" class="hd" fill="#3f9f3f" stroke="#3f9f3f" stroke-width="0.3" >: 161.2</text>
<text transform="translate(74.0,701.1) scale(0.955,1)" class="cj" fill="#3f9f3f" stroke="#3f9f3f" stroke-width="0.3" >万</text>
<path d="M94.7 690.5 V701" fill="none" stroke="#5cebff" stroke-width="1.05"/>
<path d="M91.10000000000001 699.8 L94.7 704 L98.3 699.8 L94.7 700.8 Z" fill="#5cebff"/>
<text transform="translate(103,701.1) scale(0.93,1)" class="hd" fill="#a33a48" stroke="#a33a48" stroke-width="0.3" >MAVOL5: 171.8</text>
<text transform="translate(205.8,701.1) scale(0.955,1)" class="cj" fill="#a33a48" stroke="#a33a48" stroke-width="0.3" >万</text>
<path d="M225.8 690.5 V701" fill="none" stroke="#5cebff" stroke-width="1.05"/>
<path d="M222.20000000000002 699.8 L225.8 704 L229.4 699.8 L225.8 700.8 Z" fill="#5cebff"/>
<text transform="translate(234.2,701.1) scale(0.93,1)" class="hd" fill="#3f95a5" stroke="#3f95a5" stroke-width="0.3" >MAVOL10: 156.6</text>
<text transform="translate(345.6,701.1) scale(0.955,1)" class="cj" fill="#3f95a5" stroke="#3f95a5" stroke-width="0.3" >万</text>
<path d="M365.5 704 V691.8 M362.2 695.4 L365.5 691.8 L368.8 695.4" fill="none" stroke="#ff5a5a" stroke-width="1.3"/>
<g id="wm">
<g fill="#fff" stroke="#8a8a8a" stroke-width="1.1">
<path d="M847.5 829.5 c-8.6 0 -15.5 5.6 -15.5 12.6 c0 4 2.3 7.5 5.8 9.8 l-1.6 4.8 l5.6 -3 c1.8 0.5 3.7 0.9 5.7 0.9 c8.6 0 15.5 -5.6 15.5 -12.6 c0 -7 -6.900 -12.5 -15.5 -12.5 z"/>
<path d="M863 841 c-7.4 0 -13.300 4.800 -13.300 10.800 c0 6 5.900 10.800 13.300 10.800 c1.600 0 3.200 -0.300 4.600 -0.700 l4.600 2.500 l-1.300 -4 c3.100 -2 5.100 -5.100 5.100 -8.600 c0 -6 -5.900 -10.800 -13 -10.800 z"/>
</g>
<g fill="#fff" stroke="#999" stroke-width="0.9"><circle cx="842.3" cy="837.3" r="1.7"/><circle cx="853" cy="837.3" r="1.7"/><circle cx="858.5" cy="848.3" r="1.4"/><circle cx="867.5" cy="848.3" r="1.4"/></g>
<text x="884.6" y="859.6" style="font-size:26.8px;font-weight:400;fill:#666;font-family:'Noto Sans CJK SC',sans-serif">泷韬全球宏观</text>
<text x="883.2" y="858.2" style="font-size:26.8px;font-weight:400;fill:#fff;font-family:'Noto Sans CJK SC',sans-serif">泷韬全球宏观</text>
</g>
</svg></body></html>
